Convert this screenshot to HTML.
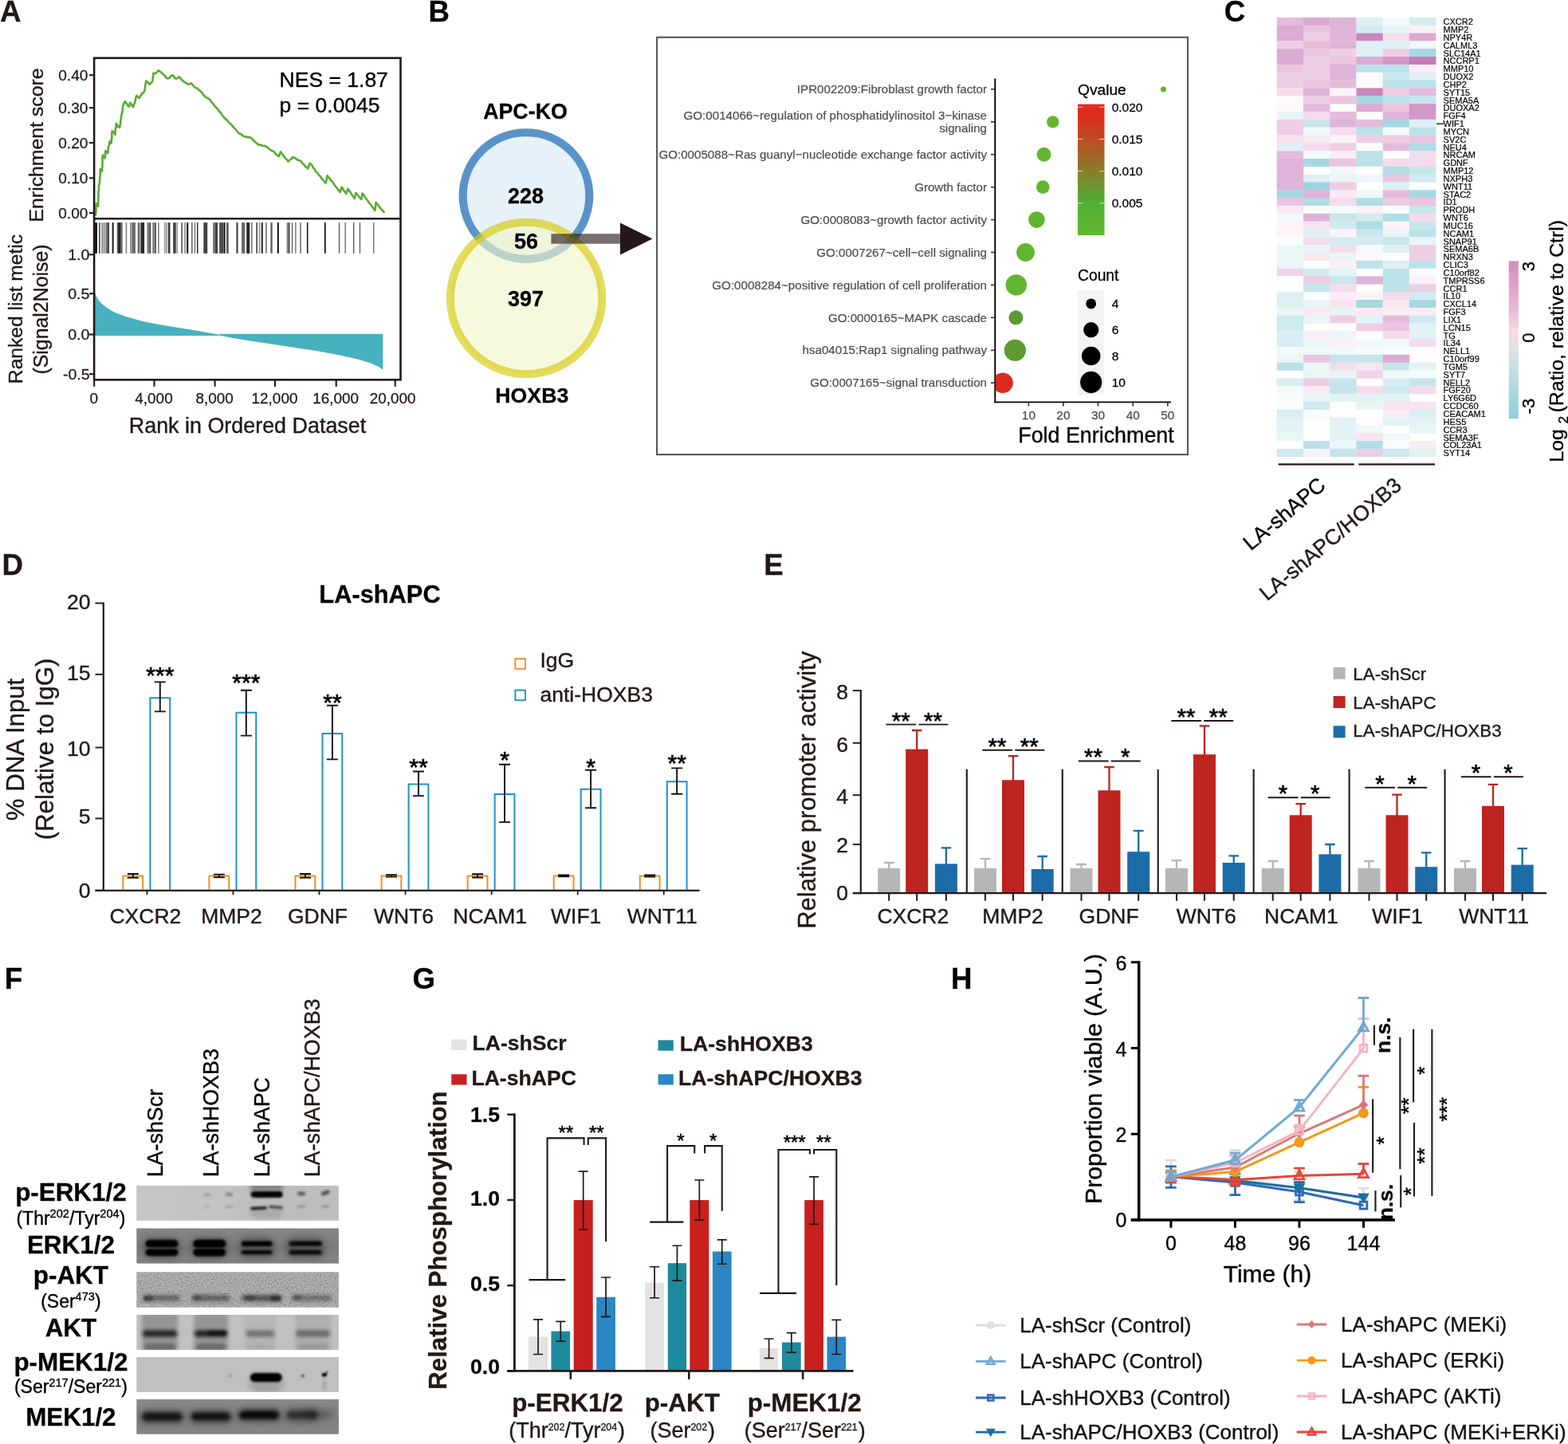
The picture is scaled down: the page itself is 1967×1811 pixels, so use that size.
<!DOCTYPE html>
<html lang="en">
<head>
<meta charset="utf-8">
<title>Figure</title>
<style>
html,body{margin:0;padding:0;background:#fff;}
body{width:1967px;height:1811px;overflow:hidden;}
svg{display:block;font-family:"Liberation Sans",sans-serif;fill:#231815;}
</style>
</head>
<body>
<svg xmlns="http://www.w3.org/2000/svg" width="1967" height="1811" viewBox="0 0 1967 1811">
<rect x="0" y="0" width="1967" height="1811" fill="#ffffff"/>
<g>
<text x="0" y="26.9" font-size="36.7" font-weight="bold" stroke="#231815" stroke-width="0.29">A</text>
<path d="M118.17 362.92 L119.49 368.21 L121.61 372.96 L124.25 377.19 L128.22 381.42 L132.18 384.6 L138.79 389.09 L145.4 392.53 L158.62 397.29 L171.83 400.99 L185.05 404.16 L211.49 408.92 L237.93 413.15 L264.36 417.64 L274.94 419.76 L274.94 420.55 L290.8 423.72 L317.23 427.95 L343.67 431.92 L370.11 435.88 L396.54 440.11 L422.98 444.87 L449.41 450.69 L465.28 455.44 L475.85 460.2 L480.34 463.9 L480.34 418.7 L274.94 418.7 L274.94 421.08 L118.17 421.08Z" fill="#47b1c0"/>
<g fill="#111"><rect x="119.07" y="279.1" width="2.85" height="38.7" opacity="1"/><rect x="123.95" y="279.1" width="1.73" height="38.7" opacity="0.75"/><rect x="127.4" y="279.1" width="1.32" height="38.7" opacity="0.6"/><rect x="129.23" y="279.1" width="1.53" height="38.7" opacity="0.45"/><rect x="131.27" y="279.1" width="1.02" height="38.7" opacity="0.55"/><rect x="132.79" y="279.1" width="2.03" height="38.7" opacity="0.65"/><rect x="135.03" y="279.1" width="1.83" height="38.7" opacity="0.85"/><rect x="140.62" y="279.1" width="2.03" height="38.7" opacity="0.95"/><rect x="146.72" y="279.1" width="1.32" height="38.7" opacity="0.65"/><rect x="148.05" y="279.1" width="3.56" height="38.7" opacity="0.9"/><rect x="151.6" y="279.1" width="2.03" height="38.7" opacity="0.65"/><rect x="157.7" y="279.1" width="1.53" height="38.7" opacity="0.55"/><rect x="163.3" y="279.1" width="2.03" height="38.7" opacity="0.55"/><rect x="165.84" y="279.1" width="1.53" height="38.7" opacity="0.75"/><rect x="167.36" y="279.1" width="2.54" height="38.7" opacity="0.65"/><rect x="172.75" y="279.1" width="2.24" height="38.7" opacity="0.65"/><rect x="175.5" y="279.1" width="1.53" height="38.7" opacity="0.55"/><rect x="177.02" y="279.1" width="4.07" height="38.7" opacity="0.9"/><rect x="184.65" y="279.1" width="2.03" height="38.7" opacity="0.65"/><rect x="187.19" y="279.1" width="2.03" height="38.7" opacity="0.8"/><rect x="191.26" y="279.1" width="2.54" height="38.7" opacity="0.55"/><rect x="194.11" y="279.1" width="1.73" height="38.7" opacity="0.75"/><rect x="198.17" y="279.1" width="1.42" height="38.7" opacity="0.6"/><rect x="205.8" y="279.1" width="1.22" height="38.7" opacity="0.4"/><rect x="207.53" y="279.1" width="1.53" height="38.7" opacity="0.45"/><rect x="209.56" y="279.1" width="1.02" height="38.7" opacity="0.45"/><rect x="211.09" y="279.1" width="2.34" height="38.7" opacity="0.85"/><rect x="217.19" y="279.1" width="3.56" height="38.7" opacity="0.8"/><rect x="221.56" y="279.1" width="1.22" height="38.7" opacity="0.55"/><rect x="227.35" y="279.1" width="1.53" height="38.7" opacity="0.75"/><rect x="231.42" y="279.1" width="1.32" height="38.7" opacity="0.6"/><rect x="234.17" y="279.1" width="2.03" height="38.7" opacity="1"/><rect x="240.06" y="279.1" width="1.53" height="38.7" opacity="0.65"/><rect x="243.93" y="279.1" width="1.22" height="38.7" opacity="0.65"/><rect x="246.98" y="279.1" width="1.53" height="38.7" opacity="0.85"/><rect x="255.32" y="279.1" width="4.88" height="38.7" opacity="0.8"/><rect x="267.01" y="279.1" width="2.54" height="38.7" opacity="0.55"/><rect x="269.55" y="279.1" width="3.56" height="38.7" opacity="0.8"/><rect x="275.14" y="279.1" width="5.59" height="38.7" opacity="0.75"/><rect x="280.94" y="279.1" width="1.63" height="38.7" opacity="1"/><rect x="283.99" y="279.1" width="2.85" height="38.7" opacity="0.65"/><rect x="296.49" y="279.1" width="2.03" height="38.7" opacity="0.85"/><rect x="303.1" y="279.1" width="2.03" height="38.7" opacity="0.65"/><rect x="305.34" y="279.1" width="1.63" height="38.7" opacity="0.8"/><rect x="309" y="279.1" width="4.27" height="38.7" opacity="0.7"/><rect x="310" y="279.1" width="3.05" height="38.7" opacity="0.7"/><rect x="315.08" y="279.1" width="1.53" height="38.7" opacity="0.6"/><rect x="321.39" y="279.1" width="1.63" height="38.7" opacity="0.8"/><rect x="325.05" y="279.1" width="1.22" height="38.7" opacity="0.55"/><rect x="327.79" y="279.1" width="2.03" height="38.7" opacity="0.9"/><rect x="333.18" y="279.1" width="1.53" height="38.7" opacity="0.65"/><rect x="339.28" y="279.1" width="2.44" height="38.7" opacity="0.65"/><rect x="347.82" y="279.1" width="2.03" height="38.7" opacity="1"/><rect x="359.62" y="279.1" width="1.22" height="38.7" opacity="0.55"/><rect x="361.04" y="279.1" width="1.32" height="38.7" opacity="0.65"/><rect x="362.36" y="279.1" width="1.32" height="38.7" opacity="0.8"/><rect x="365.92" y="279.1" width="1.22" height="38.7" opacity="0.7"/><rect x="370.19" y="279.1" width="1.42" height="38.7" opacity="0.6"/><rect x="376.29" y="279.1" width="1.42" height="38.7" opacity="0.7"/><rect x="384.94" y="279.1" width="1.53" height="38.7" opacity="1"/><rect x="406.8" y="279.1" width="2.03" height="38.7" opacity="0.9"/><rect x="424.9" y="279.1" width="1.32" height="38.7" opacity="0.7"/><rect x="432.52" y="279.1" width="1.32" height="38.7" opacity="0.65"/><rect x="442.99" y="279.1" width="1.42" height="38.7" opacity="0.7"/><rect x="450.82" y="279.1" width="1.32" height="38.7" opacity="0.7"/><rect x="468.11" y="279.1" width="1.32" height="38.7" opacity="0.65"/></g>
<path d="M119.86 270.32 L120.15 268.1 L120.41 265.99 L120.54 263.38 L120.41 259.32 L120.66 258.84 L120.71 255.38 L123.06 258.58 L122.91 257.11 L123.08 253.81 L123.36 251.63 L123.23 248.11 L123.74 246.35 L123.37 245.07 L123.44 242.79 L123.52 240.05 L124.05 236.34 L123.91 235.09 L124 232.1 L124.65 231.45 L124.96 227.58 L125.05 225.78 L125.2 223.35 L125.63 220.43 L125.82 219.24 L125.59 217.42 L125.68 213.99 L126.05 212.03 L128.19 214.81 L128 211.77 L128.39 209.86 L128.51 206.95 L128.36 205.43 L128.53 204.24 L128.6 200.88 L128.42 199.48 L128.47 197.82 L128.83 194.52 L130.42 196.99 L131.6 198.36 L131.99 195.01 L132.08 193.48 L131.97 190.4 L132.46 189.18 L135.23 191.96 L135.72 188.55 L135.81 185.88 L135.87 183.84 L136.85 182.51 L137.21 178.95 L138.01 177.01 L139.5 179.57 L139.82 177.43 L139.96 174.32 L140.18 173.64 L140.38 169.77 L140.17 167.69 L140.67 166.64 L140.57 164.2 L142.75 166.2 L144.41 168.9 L144.55 166.68 L144.72 163.87 L144.95 161.03 L145.71 160.06 L145.39 156.59 L145.91 155.02 L148.06 158.54 L150.18 159.93 L150.38 157.3 L151.09 155.3 L151.2 152.57 L151.85 149.27 L151.95 146.8 L152.31 145.41 L152.52 143.59 L153.44 140.79 L153.77 138.01 L153.98 134.3 L154.45 132.6 L155.72 129.16 L156.58 127.26 L158.34 128.94 L160.35 132.63 L161.92 133.67 L162.43 132.26 L162.99 128.75 L164.55 130.58 L165.71 132.41 L167.26 134.31 L167.76 131.67 L168.98 129.2 L169.47 128.06 L170.01 124.63 L170.68 121.3 L171.53 119.79 L173.35 122.01 L174.73 122.99 L176.51 120.02 L177.94 117.65 L180.71 115.52 L181.26 113.81 L181.72 111.25 L182.12 108.28 L182.41 105.78 L182.96 104.54 L183.27 101.64 L185.68 103.32 L187.55 105.91 L189.52 104.1 L191.39 101.64 L191.63 98.16 L191.92 96.28 L192.22 94.35 L192.24 92.03 L195.02 92.03 L197.01 90.54 L198.65 88.4 L201.19 89.88 L203.56 92.03 L205.36 94.15 L206.97 94.9 L208.48 97.65 L209.97 98.43 L212.37 98.06 L214.25 95.63 L216.37 94.16 L218.17 95.56 L219.57 98.43 L222.23 98.33 L224.91 96.3 L226.65 98.32 L227.92 100.01 L229.76 101.72 L231.32 102.7 L233.94 104.67 L236.66 105.91 L239.86 104.41 L241.8 106.61 L243.55 108.56 L245.2 110.18 L247.13 110.56 L249.56 112.9 L251.6 114.45 L253.32 116.06 L254.53 118.3 L256.24 120.03 L258.01 121.92 L260.46 123.12 L263.35 125.13 L264.65 126.88 L266.06 128.69 L267.76 130.86 L269.38 132.91 L270.82 134.73 L272.59 136.33 L273.81 137.94 L275.34 140.02 L277.12 141.71 L278.17 143.77 L279.73 145.82 L281.5 147.55 L283.11 149.29 L285.19 151.03 L286.57 152.96 L288.41 154.66 L290.04 156.09 L291.53 157.89 L293.49 160.02 L295.44 162.26 L296.78 163.87 L298.58 165.69 L300.15 167.66 L302.35 167.74 L303.97 169.88 L306.05 171.03 L308.69 171.77 L310.81 171.9 L313.13 172.2 L315.66 173.17 L317.46 175.79 L319.64 177.64 L321.12 178.93 L323.13 180.64 L325.27 181.94 L327.3 181.57 L329.53 183.02 L331.67 182.78 L333.58 183.72 L335.59 184.73 L337.32 186.53 L339.56 188.35 L341.28 189.18 L343.01 189.81 L344.96 191.64 L346.25 193.86 L347.91 194.45 L349.82 196.23 L350.77 194.02 L351.96 190.25 L353.32 192.19 L354.77 194.02 L355.85 195.95 L357.33 197.74 L358.72 199.15 L360.21 200.54 L361.57 202.63 L363.26 200.8 L365.18 199.47 L366.91 197.3 L368.89 197.46 L371.43 199.04 L373.34 200.64 L375.45 200.93 L377.75 202.28 L379.72 205.2 L381.36 206.68 L383 208.73 L384.77 209.97 L386.12 211.6 L386.91 209.14 L387.65 207.61 L388.69 204.77 L390.35 206.34 L391.82 207.86 L393.04 210.75 L394.71 211.99 L395.79 214.88 L397.5 216.08 L398.93 218.01 L400.43 219.96 L402.19 221.68 L403.48 224.1 L405.53 225.65 L407.04 228 L408.54 229.75 L409.21 227.02 L409.91 225.28 L409.87 222.69 L410.68 220.14 L411.97 222.29 L413.86 224.05 L414.83 226 L416.75 227.61 L418.02 229.41 L419.21 231.5 L420.6 233.55 L422.25 235.09 L423.52 236.96 L425.38 239.22 L426.69 241.07 L427.19 239.2 L428 236.75 L428.83 234.66 L430.16 236.87 L431.42 239.24 L432.95 240.76 L434.17 243.2 L434.96 240.82 L435.84 238.94 L436.3 236.8 L437.8 238.87 L439.18 240.69 L440.72 242.71 L441.78 244.92 L443.34 246.75 L444.84 248.97 L445.15 246.79 L445.93 244.42 L446.34 241.92 L448.2 243.66 L449.64 245.69 L451.46 248.07 L453.38 250.04 L453.73 247.81 L454.27 244.93 L454.45 242.56 L455.92 244.01 L456.91 245.81 L458.56 248.22 L459.56 249.49 L461.22 251.79 L462.24 253.46 L463.71 255.11 L465.03 256.61 L466.37 258.66 L467.58 260.28 L469.22 262.37 L470.47 263.92 L470.69 261.62 L471.01 259.14 L471.31 256.45 L471.53 253.88 L473 255.88 L474.3 257.26 L475.83 259.16 L477.62 261.47 L478.86 263.21 L480.92 264.84 L482.21 266.69" fill="none" stroke="#5aab2e" stroke-width="2.6" stroke-linejoin="round"/>
<rect x="118.1" y="72.8" width="384.4" height="403.5" fill="none" stroke="#231815" stroke-width="2.6"/>
<line x1="118.1" y1="274.3" x2="502.5" y2="274.3" stroke="#231815" stroke-width="2.6"/>
<line x1="111.9" y1="94.2" x2="118.1" y2="94.2" stroke="#231815" stroke-width="2.1"/>
<text x="110.3" y="100.8" font-size="18.6" text-anchor="end" textLength="37" lengthAdjust="spacingAndGlyphs" stroke="#231815" stroke-width="0.26">0.40</text>
<line x1="111.9" y1="135.2" x2="118.1" y2="135.2" stroke="#231815" stroke-width="2.1"/>
<text x="110.3" y="141.8" font-size="18.6" text-anchor="end" textLength="37" lengthAdjust="spacingAndGlyphs" stroke="#231815" stroke-width="0.26">0.30</text>
<line x1="111.9" y1="179.1" x2="118.1" y2="179.1" stroke="#231815" stroke-width="2.1"/>
<text x="110.3" y="185.7" font-size="18.6" text-anchor="end" textLength="37" lengthAdjust="spacingAndGlyphs" stroke="#231815" stroke-width="0.26">0.20</text>
<line x1="111.9" y1="223.3" x2="118.1" y2="223.3" stroke="#231815" stroke-width="2.1"/>
<text x="110.3" y="229.9" font-size="18.6" text-anchor="end" textLength="37" lengthAdjust="spacingAndGlyphs" stroke="#231815" stroke-width="0.26">0.10</text>
<line x1="111.9" y1="267.1" x2="118.1" y2="267.1" stroke="#231815" stroke-width="2.1"/>
<text x="110.3" y="273.7" font-size="18.6" text-anchor="end" textLength="37" lengthAdjust="spacingAndGlyphs" stroke="#231815" stroke-width="0.26">0.00</text>
<line x1="111.9" y1="319.3" x2="118.1" y2="319.3" stroke="#231815" stroke-width="2.1"/>
<text x="112.5" y="325.9" font-size="18.6" text-anchor="end" textLength="27.3" lengthAdjust="spacingAndGlyphs" stroke="#231815" stroke-width="0.26">1.0</text>
<line x1="111.9" y1="368.2" x2="118.1" y2="368.2" stroke="#231815" stroke-width="2.1"/>
<text x="112.5" y="374.8" font-size="18.6" text-anchor="end" textLength="27.3" lengthAdjust="spacingAndGlyphs" stroke="#231815" stroke-width="0.26">0.5</text>
<line x1="111.9" y1="419.5" x2="118.1" y2="419.5" stroke="#231815" stroke-width="2.1"/>
<text x="112.5" y="426.1" font-size="18.6" text-anchor="end" textLength="27.3" lengthAdjust="spacingAndGlyphs" stroke="#231815" stroke-width="0.26">0.0</text>
<line x1="111.9" y1="469.2" x2="118.1" y2="469.2" stroke="#231815" stroke-width="2.1"/>
<text x="112.5" y="475.8" font-size="18.6" text-anchor="end" textLength="33.6" lengthAdjust="spacingAndGlyphs" stroke="#231815" stroke-width="0.26">-0.5</text>
<line x1="118.2" y1="476.3" x2="118.2" y2="484.8" stroke="#231815" stroke-width="2.1"/>
<text x="117.7" y="505.6" font-size="18.9" text-anchor="middle" stroke="#231815" stroke-width="0.26">0</text>
<line x1="193.5" y1="476.3" x2="193.5" y2="484.8" stroke="#231815" stroke-width="2.1"/>
<text x="193" y="505.6" font-size="18.9" text-anchor="middle" stroke="#231815" stroke-width="0.26">4,000</text>
<line x1="269.6" y1="476.3" x2="269.6" y2="484.8" stroke="#231815" stroke-width="2.1"/>
<text x="269.1" y="505.6" font-size="18.9" text-anchor="middle" stroke="#231815" stroke-width="0.26">8,000</text>
<line x1="345" y1="476.3" x2="345" y2="484.8" stroke="#231815" stroke-width="2.1"/>
<text x="344.5" y="505.6" font-size="18.9" text-anchor="middle" stroke="#231815" stroke-width="0.26">12,000</text>
<line x1="421.7" y1="476.3" x2="421.7" y2="484.8" stroke="#231815" stroke-width="2.1"/>
<text x="421.2" y="505.6" font-size="18.9" text-anchor="middle" stroke="#231815" stroke-width="0.26">16,000</text>
<line x1="495.7" y1="476.3" x2="495.7" y2="484.8" stroke="#231815" stroke-width="2.1"/>
<text x="492.7" y="505.6" font-size="18.9" text-anchor="middle" stroke="#231815" stroke-width="0.26">20,000</text>
<text x="310.5" y="542.5" font-size="26.9" text-anchor="middle" stroke="#231815" stroke-width="0.36">Rank in Ordered Dataset</text>
<text x="54.4" y="182" font-size="24.8" text-anchor="middle" transform="rotate(-90 54.4 182)" stroke="#231815" stroke-width="0.36">Enrichment score</text>
<text x="27.8" y="387.5" font-size="24.6" text-anchor="middle" transform="rotate(-90 27.8 387.5)" stroke="#231815" stroke-width="0.36">Ranked list metic</text>
<text x="60.3" y="388" font-size="24.9" text-anchor="middle" transform="rotate(-90 60.3 388)" stroke="#231815" stroke-width="0.36">(Signal2Noise)</text>
<text x="350.6" y="108.9" font-size="26.5" fill="#000" stroke="#000" stroke-width="0.36">NES = 1.87</text>
<text x="350.6" y="140.9" font-size="26.5" fill="#000" stroke="#000" stroke-width="0.36">p = 0.0045</text>
</g>
<g>
<text x="537.4" y="26.9" font-size="36.7" font-weight="bold" fill="#000" stroke="#000" stroke-width="0.29">B</text>
<text x="659" y="149.3" font-size="26.8" text-anchor="middle" font-weight="bold" fill="#000" stroke="#000" stroke-width="0.29">APC-KO</text>
<circle cx="660" cy="245.55" r="79.3" fill="#e6f1f9" stroke="#5a93c8" stroke-width="10.2"/>
<circle cx="660.1" cy="374" r="95.2" fill="#f2f5cb" stroke="#d6c80c" stroke-width="10" fill-opacity="0.64" stroke-opacity="0.66"/>
<text x="659.5" y="255" font-size="27" text-anchor="middle" font-weight="bold" fill="#000" stroke="#000" stroke-width="0.29">228</text>
<text x="660" y="311.7" font-size="27" text-anchor="middle" font-weight="bold" fill="#000" stroke="#000" stroke-width="0.29">56</text>
<text x="659.5" y="383.6" font-size="27" text-anchor="middle" font-weight="bold" fill="#000" stroke="#000" stroke-width="0.29">397</text>
<text x="667.3" y="505.2" font-size="26.7" text-anchor="middle" font-weight="bold" fill="#000" stroke="#000" stroke-width="0.29">HOXB3</text>
<rect x="691.4" y="293.2" width="88" height="12.5" fill="#231815" opacity="0.62"/>
<path d="M778 279.5 L818.5 299.5 L778 319.5Z" fill="#231815"/>
<rect x="824.1" y="46.8" width="665.9" height="523.3" fill="none" stroke="#595757" stroke-width="2.1"/>
<line x1="1248.3" y1="98.5" x2="1248.3" y2="505.3" stroke="#000" stroke-width="1.9"/>
<line x1="1247.4" y1="504.4" x2="1469" y2="504.4" stroke="#000" stroke-width="1.9"/>
<clipPath id="bclip"><rect x="1248.8" y="90" width="240" height="413.8"/></clipPath>
<line x1="1243" y1="111.9" x2="1248" y2="111.9" stroke="#333" stroke-width="1.6"/>
<line x1="1243" y1="152.82" x2="1248" y2="152.82" stroke="#333" stroke-width="1.6"/>
<line x1="1243" y1="193.74" x2="1248" y2="193.74" stroke="#333" stroke-width="1.6"/>
<line x1="1243" y1="234.66" x2="1248" y2="234.66" stroke="#333" stroke-width="1.6"/>
<line x1="1243" y1="275.58" x2="1248" y2="275.58" stroke="#333" stroke-width="1.6"/>
<line x1="1243" y1="316.5" x2="1248" y2="316.5" stroke="#333" stroke-width="1.6"/>
<line x1="1243" y1="357.42" x2="1248" y2="357.42" stroke="#333" stroke-width="1.6"/>
<line x1="1243" y1="398.34" x2="1248" y2="398.34" stroke="#333" stroke-width="1.6"/>
<line x1="1243" y1="439.26" x2="1248" y2="439.26" stroke="#333" stroke-width="1.6"/>
<line x1="1243" y1="480.18" x2="1248" y2="480.18" stroke="#333" stroke-width="1.6"/>
<g font-size="15.15" fill="#4d4d4d" text-anchor="end" stroke="#4d4d4d" stroke-width="0.2"><text x="1238" y="117.1">IPR002209:Fibroblast growth factor</text><text x="1238" y="150.02">GO:0014066~regulation of phosphatidylinositol 3−kinase</text><text x="1238" y="166.42">signaling</text><text x="1238" y="198.94">GO:0005088~Ras guanyl−nucleotide exchange factor activity</text><text x="1238" y="239.86">Growth factor</text><text x="1238" y="280.78">GO:0008083~growth factor activity</text><text x="1238" y="321.7">GO:0007267~cell−cell signaling</text><text x="1238" y="362.62">GO:0008284~positive regulation of cell proliferation</text><text x="1238" y="403.54">GO:0000165~MAPK cascade</text><text x="1238" y="444.46">hsa04015:Rap1 signaling pathway</text><text x="1238" y="485.38">GO:0007165~signal transduction</text></g>
<g clip-path="url(#bclip)"><circle cx="1459.5" cy="111.9" r="3.5" fill="#62b62f"/><circle cx="1320.7" cy="152.82" r="7.6" fill="#62b62f"/><circle cx="1309.6" cy="193.74" r="9" fill="#62b62f"/><circle cx="1308.2" cy="234.66" r="8.3" fill="#62b62f"/><circle cx="1300.4" cy="275.58" r="10.3" fill="#62b32e"/><circle cx="1286.5" cy="316.5" r="11.4" fill="#62b62f"/><circle cx="1274.8" cy="357.42" r="13.2" fill="#62b62f"/><circle cx="1274.4" cy="398.34" r="9" fill="#5e9a30"/><circle cx="1273.3" cy="439.26" r="13.6" fill="#5e9a30"/><circle cx="1258" cy="480.18" r="12.8" fill="#dc2a1e"/></g>
<line x1="1290.4" y1="504.4" x2="1290.4" y2="509.4" stroke="#333" stroke-width="1.6"/>
<text x="1290.4" y="525.5" font-size="15.4" text-anchor="middle" fill="#4d4d4d" stroke="#4d4d4d" stroke-width="0.26">10</text>
<line x1="1333.9" y1="504.4" x2="1333.9" y2="509.4" stroke="#333" stroke-width="1.6"/>
<text x="1333.9" y="525.5" font-size="15.4" text-anchor="middle" fill="#4d4d4d" stroke="#4d4d4d" stroke-width="0.26">20</text>
<line x1="1377.5" y1="504.4" x2="1377.5" y2="509.4" stroke="#333" stroke-width="1.6"/>
<text x="1377.5" y="525.5" font-size="15.4" text-anchor="middle" fill="#4d4d4d" stroke="#4d4d4d" stroke-width="0.26">30</text>
<line x1="1421.2" y1="504.4" x2="1421.2" y2="509.4" stroke="#333" stroke-width="1.6"/>
<text x="1421.2" y="525.5" font-size="15.4" text-anchor="middle" fill="#4d4d4d" stroke="#4d4d4d" stroke-width="0.26">40</text>
<line x1="1464.8" y1="504.4" x2="1464.8" y2="509.4" stroke="#333" stroke-width="1.6"/>
<text x="1464.8" y="525.5" font-size="15.4" text-anchor="middle" fill="#4d4d4d" stroke="#4d4d4d" stroke-width="0.26">50</text>
<text x="1375" y="555" font-size="26.85" text-anchor="middle" fill="#000" stroke="#000" stroke-width="0.36">Fold Enrichment</text>
<linearGradient id="qg" x1="0" y1="0" x2="0" y2="1"><stop offset="0" stop-color="#e1281d"/><stop offset="0.12" stop-color="#d9311f"/><stop offset="0.5" stop-color="#8d7a2c"/><stop offset="0.75" stop-color="#4fae33"/><stop offset="1" stop-color="#62b82f"/></linearGradient>
<text x="1352" y="118.5" font-size="19.2" fill="#000" stroke="#000" stroke-width="0.26">Qvalue</text>
<rect x="1352" y="130.7" width="33.5" height="164.4" fill="url(#qg)"/>
<line x1="1352" y1="134.3" x2="1358.5" y2="134.3" stroke="#fff" stroke-width="1" opacity="0.75"/>
<line x1="1379" y1="134.3" x2="1385.5" y2="134.3" stroke="#fff" stroke-width="1" opacity="0.75"/>
<text x="1394.7" y="139.7" font-size="15.5" fill="#000" stroke="#000" stroke-width="0.26">0.020</text>
<line x1="1352" y1="174.5" x2="1358.5" y2="174.5" stroke="#fff" stroke-width="1" opacity="0.75"/>
<line x1="1379" y1="174.5" x2="1385.5" y2="174.5" stroke="#fff" stroke-width="1" opacity="0.75"/>
<text x="1394.7" y="179.9" font-size="15.5" fill="#000" stroke="#000" stroke-width="0.26">0.015</text>
<line x1="1352" y1="214.7" x2="1358.5" y2="214.7" stroke="#fff" stroke-width="1" opacity="0.75"/>
<line x1="1379" y1="214.7" x2="1385.5" y2="214.7" stroke="#fff" stroke-width="1" opacity="0.75"/>
<text x="1394.7" y="220.1" font-size="15.5" fill="#000" stroke="#000" stroke-width="0.26">0.010</text>
<line x1="1352" y1="254.9" x2="1358.5" y2="254.9" stroke="#fff" stroke-width="1" opacity="0.75"/>
<line x1="1379" y1="254.9" x2="1385.5" y2="254.9" stroke="#fff" stroke-width="1" opacity="0.75"/>
<text x="1394.7" y="260.3" font-size="15.5" fill="#000" stroke="#000" stroke-width="0.26">0.005</text>
<text x="1352" y="352" font-size="19.3" fill="#000" stroke="#000" stroke-width="0.26">Count</text>
<rect x="1352.2" y="363.9" width="32.9" height="131.4" fill="#f3f3f3"/>
<circle cx="1368.7" cy="380.9" r="6.4" fill="#000"/>
<text x="1394.7" y="386.3" font-size="15.5" fill="#000" stroke="#000" stroke-width="0.26">4</text>
<circle cx="1368.7" cy="413.7" r="9.6" fill="#000"/>
<text x="1394.7" y="419.1" font-size="15.5" fill="#000" stroke="#000" stroke-width="0.26">6</text>
<circle cx="1368.7" cy="446.5" r="11.8" fill="#000"/>
<text x="1394.7" y="451.9" font-size="15.5" fill="#000" stroke="#000" stroke-width="0.26">8</text>
<circle cx="1368.7" cy="479.4" r="13.6" fill="#000"/>
<text x="1394.7" y="484.8" font-size="15.5" fill="#000" stroke="#000" stroke-width="0.26">10</text>
</g>
<g>
<text x="1535.8" y="26.9" font-size="36.7" font-weight="bold" fill="#000" stroke="#000" stroke-width="0.29">C</text>
<g><rect x="1601.7" y="21.9" width="33.5" height="10.09" fill="#e5bcdc"/><rect x="1634.95" y="21.9" width="33.5" height="10.09" fill="#dbaad3"/><rect x="1668.2" y="21.9" width="33.5" height="10.09" fill="#e0b3d8"/><rect x="1701.45" y="21.9" width="33.5" height="10.09" fill="#def0f4"/><rect x="1734.7" y="21.9" width="33.5" height="10.09" fill="#f4fafb"/><rect x="1767.95" y="21.9" width="33.5" height="10.09" fill="#d3ebf0"/><rect x="1601.7" y="31.74" width="33.5" height="10.09" fill="#dbaad3"/><rect x="1634.95" y="31.74" width="33.5" height="10.09" fill="#eac5e0"/><rect x="1668.2" y="31.74" width="33.5" height="10.09" fill="#e0b3d8"/><rect x="1701.45" y="31.74" width="33.5" height="10.09" fill="#d3ebf0"/><rect x="1734.7" y="31.74" width="33.5" height="10.09" fill="#e9f5f8"/><rect x="1767.95" y="31.74" width="33.5" height="10.09" fill="#fbf0f7"/><rect x="1601.7" y="41.57" width="33.5" height="10.09" fill="#dbaad3"/><rect x="1634.95" y="41.57" width="33.5" height="10.09" fill="#eecee4"/><rect x="1668.2" y="41.57" width="33.5" height="10.09" fill="#e0b3d8"/><rect x="1701.45" y="41.57" width="33.5" height="10.09" fill="#c987bc"/><rect x="1734.7" y="41.57" width="33.5" height="10.09" fill="#f4dcec"/><rect x="1767.95" y="41.57" width="33.5" height="10.09" fill="#dbaad3"/><rect x="1601.7" y="51.41" width="33.5" height="10.09" fill="#eecee4"/><rect x="1634.95" y="51.41" width="33.5" height="10.09" fill="#e5bcdc"/><rect x="1668.2" y="51.41" width="33.5" height="10.09" fill="#e0b3d8"/><rect x="1701.45" y="51.41" width="33.5" height="10.09" fill="#def0f4"/><rect x="1734.7" y="51.41" width="33.5" height="10.09" fill="#def0f4"/><rect x="1767.95" y="51.41" width="33.5" height="10.09" fill="#eff8fa"/><rect x="1601.7" y="61.24" width="33.5" height="10.09" fill="#dbaad3"/><rect x="1634.95" y="61.24" width="33.5" height="10.09" fill="#eac5e0"/><rect x="1668.2" y="61.24" width="33.5" height="10.09" fill="#eecee4"/><rect x="1701.45" y="61.24" width="33.5" height="10.09" fill="#def0f4"/><rect x="1734.7" y="61.24" width="33.5" height="10.09" fill="#eecee4"/><rect x="1767.95" y="61.24" width="33.5" height="10.09" fill="#a6d8e1"/><rect x="1601.7" y="71.08" width="33.5" height="10.09" fill="#dbaad3"/><rect x="1634.95" y="71.08" width="33.5" height="10.09" fill="#eecee4"/><rect x="1668.2" y="71.08" width="33.5" height="10.09" fill="#eac5e0"/><rect x="1701.45" y="71.08" width="33.5" height="10.09" fill="#dbaad3"/><rect x="1734.7" y="71.08" width="33.5" height="10.09" fill="#d298c8"/><rect x="1767.95" y="71.08" width="33.5" height="10.09" fill="#c47cb4"/><rect x="1601.7" y="80.92" width="33.5" height="10.09" fill="#eac5e0"/><rect x="1634.95" y="80.92" width="33.5" height="10.09" fill="#eecee4"/><rect x="1668.2" y="80.92" width="33.5" height="10.09" fill="#e0b3d8"/><rect x="1701.45" y="80.92" width="33.5" height="10.09" fill="#bce2e9"/><rect x="1734.7" y="80.92" width="33.5" height="10.09" fill="#bce2e9"/><rect x="1767.95" y="80.92" width="33.5" height="10.09" fill="#faedf5"/><rect x="1601.7" y="90.75" width="33.5" height="10.09" fill="#eecee4"/><rect x="1634.95" y="90.75" width="33.5" height="10.09" fill="#eecee4"/><rect x="1668.2" y="90.75" width="33.5" height="10.09" fill="#e0b3d8"/><rect x="1701.45" y="90.75" width="33.5" height="10.09" fill="#fdf8fb"/><rect x="1734.7" y="90.75" width="33.5" height="10.09" fill="#c8e6ec"/><rect x="1767.95" y="90.75" width="33.5" height="10.09" fill="#def0f4"/><rect x="1601.7" y="100.59" width="33.5" height="10.09" fill="#eecee4"/><rect x="1634.95" y="100.59" width="33.5" height="10.09" fill="#eac5e0"/><rect x="1668.2" y="100.59" width="33.5" height="10.09" fill="#e5bcdc"/><rect x="1701.45" y="100.59" width="33.5" height="10.09" fill="#f8fcfd"/><rect x="1734.7" y="100.59" width="33.5" height="10.09" fill="#bce2e9"/><rect x="1767.95" y="100.59" width="33.5" height="10.09" fill="#bce2e9"/><rect x="1601.7" y="110.42" width="33.5" height="10.09" fill="#f4dcec"/><rect x="1634.95" y="110.42" width="33.5" height="10.09" fill="#e0b3d8"/><rect x="1668.2" y="110.42" width="33.5" height="10.09" fill="#fcf4f9"/><rect x="1701.45" y="110.42" width="33.5" height="10.09" fill="#c987bc"/><rect x="1734.7" y="110.42" width="33.5" height="10.09" fill="#eecee4"/><rect x="1767.95" y="110.42" width="33.5" height="10.09" fill="#e5bcdc"/><rect x="1601.7" y="120.26" width="33.5" height="10.09" fill="#fdf8fb"/><rect x="1634.95" y="120.26" width="33.5" height="10.09" fill="#eecee4"/><rect x="1668.2" y="120.26" width="33.5" height="10.09" fill="#eac5e0"/><rect x="1701.45" y="120.26" width="33.5" height="10.09" fill="#a6d8e1"/><rect x="1734.7" y="120.26" width="33.5" height="10.09" fill="#bce2e9"/><rect x="1767.95" y="120.26" width="33.5" height="10.09" fill="#c8e6ec"/><rect x="1601.7" y="130.1" width="33.5" height="10.09" fill="#fdf8fb"/><rect x="1634.95" y="130.1" width="33.5" height="10.09" fill="#e5bcdc"/><rect x="1701.45" y="130.1" width="33.5" height="10.09" fill="#dbaad3"/><rect x="1734.7" y="130.1" width="33.5" height="10.09" fill="#eac5e0"/><rect x="1767.95" y="130.1" width="33.5" height="10.09" fill="#d298c8"/><rect x="1601.7" y="139.93" width="33.5" height="10.09" fill="#e9f5f8"/><rect x="1634.95" y="139.93" width="33.5" height="10.09" fill="#f4dcec"/><rect x="1668.2" y="139.93" width="33.5" height="10.09" fill="#e5bcdc"/><rect x="1734.7" y="139.93" width="33.5" height="10.09" fill="#e0b3d8"/><rect x="1767.95" y="139.93" width="33.5" height="10.09" fill="#d298c8"/><rect x="1601.7" y="149.77" width="33.5" height="10.09" fill="#eecee4"/><rect x="1634.95" y="149.77" width="33.5" height="10.09" fill="#c8e6ec"/><rect x="1668.2" y="149.77" width="33.5" height="10.09" fill="#e0b3d8"/><rect x="1701.45" y="149.77" width="33.5" height="10.09" fill="#e5bcdc"/><rect x="1734.7" y="149.77" width="33.5" height="10.09" fill="#a6d8e1"/><rect x="1767.95" y="149.77" width="33.5" height="10.09" fill="#def0f4"/><rect x="1601.7" y="159.6" width="33.5" height="10.09" fill="#eecee4"/><rect x="1634.95" y="159.6" width="33.5" height="10.09" fill="#eff8fa"/><rect x="1668.2" y="159.6" width="33.5" height="10.09" fill="#f4dcec"/><rect x="1701.45" y="159.6" width="33.5" height="10.09" fill="#bce2e9"/><rect x="1734.7" y="159.6" width="33.5" height="10.09" fill="#f4fafb"/><rect x="1767.95" y="159.6" width="33.5" height="10.09" fill="#bce2e9"/><rect x="1601.7" y="169.44" width="33.5" height="10.09" fill="#f6e1ee"/><rect x="1634.95" y="169.44" width="33.5" height="10.09" fill="#f9e9f3"/><rect x="1668.2" y="169.44" width="33.5" height="10.09" fill="#fcf4f9"/><rect x="1701.45" y="169.44" width="33.5" height="10.09" fill="#eecee4"/><rect x="1734.7" y="169.44" width="33.5" height="10.09" fill="#eecee4"/><rect x="1767.95" y="169.44" width="33.5" height="10.09" fill="#eac5e0"/><rect x="1601.7" y="179.28" width="33.5" height="10.09" fill="#def0f4"/><rect x="1634.95" y="179.28" width="33.5" height="10.09" fill="#f4dcec"/><rect x="1668.2" y="179.28" width="33.5" height="10.09" fill="#eecee4"/><rect x="1701.45" y="179.28" width="33.5" height="10.09" fill="#fefdfe"/><rect x="1734.7" y="179.28" width="33.5" height="10.09" fill="#e5bcdc"/><rect x="1767.95" y="179.28" width="33.5" height="10.09" fill="#b1dde5"/><rect x="1601.7" y="189.11" width="33.5" height="10.09" fill="#e5bcdc"/><rect x="1634.95" y="189.11" width="33.5" height="10.09" fill="#f4fafb"/><rect x="1668.2" y="189.11" width="33.5" height="10.09" fill="#faedf5"/><rect x="1701.45" y="189.11" width="33.5" height="10.09" fill="#bce2e9"/><rect x="1767.95" y="189.11" width="33.5" height="10.09" fill="#f4dcec"/><rect x="1601.7" y="198.95" width="33.5" height="10.09" fill="#e0b3d8"/><rect x="1634.95" y="198.95" width="33.5" height="10.09" fill="#a6d8e1"/><rect x="1668.2" y="198.95" width="33.5" height="10.09" fill="#eac5e0"/><rect x="1701.45" y="198.95" width="33.5" height="10.09" fill="#bce2e9"/><rect x="1734.7" y="198.95" width="33.5" height="10.09" fill="#f4dcec"/><rect x="1767.95" y="198.95" width="33.5" height="10.09" fill="#f4dcec"/><rect x="1601.7" y="208.78" width="33.5" height="10.09" fill="#e0b3d8"/><rect x="1668.2" y="208.78" width="33.5" height="10.09" fill="#eff8fa"/><rect x="1701.45" y="208.78" width="33.5" height="10.09" fill="#fefdfe"/><rect x="1734.7" y="208.78" width="33.5" height="10.09" fill="#b1dde5"/><rect x="1767.95" y="208.78" width="33.5" height="10.09" fill="#c8e6ec"/><rect x="1601.7" y="218.62" width="33.5" height="10.09" fill="#e0b3d8"/><rect x="1634.95" y="218.62" width="33.5" height="10.09" fill="#def0f4"/><rect x="1668.2" y="218.62" width="33.5" height="10.09" fill="#e9f5f8"/><rect x="1701.45" y="218.62" width="33.5" height="10.09" fill="#edf7f9"/><rect x="1734.7" y="218.62" width="33.5" height="10.09" fill="#eac5e0"/><rect x="1767.95" y="218.62" width="33.5" height="10.09" fill="#d3ebf0"/><rect x="1601.7" y="228.46" width="33.5" height="10.09" fill="#e0b3d8"/><rect x="1634.95" y="228.46" width="33.5" height="10.09" fill="#9bd3de"/><rect x="1668.2" y="228.46" width="33.5" height="10.09" fill="#eecee4"/><rect x="1734.7" y="228.46" width="33.5" height="10.09" fill="#def0f4"/><rect x="1601.7" y="238.29" width="33.5" height="10.09" fill="#a6d8e1"/><rect x="1634.95" y="238.29" width="33.5" height="10.09" fill="#e0b3d8"/><rect x="1668.2" y="238.29" width="33.5" height="10.09" fill="#f9e9f3"/><rect x="1701.45" y="238.29" width="33.5" height="10.09" fill="#eff8fa"/><rect x="1734.7" y="238.29" width="33.5" height="10.09" fill="#e5bcdc"/><rect x="1767.95" y="238.29" width="33.5" height="10.09" fill="#a6d8e1"/><rect x="1601.7" y="248.13" width="33.5" height="10.09" fill="#eac5e0"/><rect x="1634.95" y="248.13" width="33.5" height="10.09" fill="#b1dde5"/><rect x="1668.2" y="248.13" width="33.5" height="10.09" fill="#f4dcec"/><rect x="1701.45" y="248.13" width="33.5" height="10.09" fill="#b1dde5"/><rect x="1734.7" y="248.13" width="33.5" height="10.09" fill="#eecee4"/><rect x="1767.95" y="248.13" width="33.5" height="10.09" fill="#eac5e0"/><rect x="1601.7" y="257.96" width="33.5" height="10.09" fill="#f9e9f3"/><rect x="1634.95" y="257.96" width="33.5" height="10.09" fill="#f8fcfd"/><rect x="1668.2" y="257.96" width="33.5" height="10.09" fill="#f4fafb"/><rect x="1701.45" y="257.96" width="33.5" height="10.09" fill="#fbf0f7"/><rect x="1734.7" y="257.96" width="33.5" height="10.09" fill="#fefdfe"/><rect x="1767.95" y="257.96" width="33.5" height="10.09" fill="#c8e6ec"/><rect x="1601.7" y="267.8" width="33.5" height="10.09" fill="#f4fafb"/><rect x="1634.95" y="267.8" width="33.5" height="10.09" fill="#e0b3d8"/><rect x="1668.2" y="267.8" width="33.5" height="10.09" fill="#c8e6ec"/><rect x="1701.45" y="267.8" width="33.5" height="10.09" fill="#d3ebf0"/><rect x="1734.7" y="267.8" width="33.5" height="10.09" fill="#b1dde5"/><rect x="1767.95" y="267.8" width="33.5" height="10.09" fill="#f4dcec"/><rect x="1601.7" y="277.64" width="33.5" height="10.09" fill="#fcf4f9"/><rect x="1634.95" y="277.64" width="33.5" height="10.09" fill="#f7e4f0"/><rect x="1668.2" y="277.64" width="33.5" height="10.09" fill="#d3ebf0"/><rect x="1701.45" y="277.64" width="33.5" height="10.09" fill="#b1dde5"/><rect x="1734.7" y="277.64" width="33.5" height="10.09" fill="#fcf4f9"/><rect x="1767.95" y="277.64" width="33.5" height="10.09" fill="#c8e6ec"/><rect x="1601.7" y="287.47" width="33.5" height="10.09" fill="#fcf4f9"/><rect x="1634.95" y="287.47" width="33.5" height="10.09" fill="#def0f4"/><rect x="1668.2" y="287.47" width="33.5" height="10.09" fill="#fcf4f9"/><rect x="1701.45" y="287.47" width="33.5" height="10.09" fill="#c8e6ec"/><rect x="1734.7" y="287.47" width="33.5" height="10.09" fill="#e9f5f8"/><rect x="1767.95" y="287.47" width="33.5" height="10.09" fill="#bce2e9"/><rect x="1601.7" y="297.31" width="33.5" height="10.09" fill="#fbfdfe"/><rect x="1634.95" y="297.31" width="33.5" height="10.09" fill="#f4dcec"/><rect x="1668.2" y="297.31" width="33.5" height="10.09" fill="#d3ebf0"/><rect x="1701.45" y="297.31" width="33.5" height="10.09" fill="#d3ebf0"/><rect x="1734.7" y="297.31" width="33.5" height="10.09" fill="#c8e6ec"/><rect x="1767.95" y="297.31" width="33.5" height="10.09" fill="#e9f5f8"/><rect x="1601.7" y="307.14" width="33.5" height="10.09" fill="#e9f5f8"/><rect x="1634.95" y="307.14" width="33.5" height="10.09" fill="#e9f5f8"/><rect x="1668.2" y="307.14" width="33.5" height="10.09" fill="#f4dcec"/><rect x="1701.45" y="307.14" width="33.5" height="10.09" fill="#f4fafb"/><rect x="1734.7" y="307.14" width="33.5" height="10.09" fill="#def0f4"/><rect x="1767.95" y="307.14" width="33.5" height="10.09" fill="#eecee4"/><rect x="1601.7" y="316.98" width="33.5" height="10.09" fill="#edf7f9"/><rect x="1634.95" y="316.98" width="33.5" height="10.09" fill="#f9e9f3"/><rect x="1668.2" y="316.98" width="33.5" height="10.09" fill="#e9f5f8"/><rect x="1701.45" y="316.98" width="33.5" height="10.09" fill="#fdf6fa"/><rect x="1767.95" y="316.98" width="33.5" height="10.09" fill="#eecee4"/><rect x="1601.7" y="326.82" width="33.5" height="10.09" fill="#e9f5f8"/><rect x="1668.2" y="326.82" width="33.5" height="10.09" fill="#fbf2f8"/><rect x="1701.45" y="326.82" width="33.5" height="10.09" fill="#bce2e9"/><rect x="1734.7" y="326.82" width="33.5" height="10.09" fill="#def0f4"/><rect x="1767.95" y="326.82" width="33.5" height="10.09" fill="#bce2e9"/><rect x="1601.7" y="336.65" width="33.5" height="10.09" fill="#f0d3e7"/><rect x="1634.95" y="336.65" width="33.5" height="10.09" fill="#d3ebf0"/><rect x="1668.2" y="336.65" width="33.5" height="10.09" fill="#e4f3f6"/><rect x="1734.7" y="336.65" width="33.5" height="10.09" fill="#bce2e9"/><rect x="1767.95" y="336.65" width="33.5" height="10.09" fill="#f8fcfd"/><rect x="1601.7" y="346.49" width="33.5" height="10.09" fill="#fdfefe"/><rect x="1634.95" y="346.49" width="33.5" height="10.09" fill="#eecee4"/><rect x="1668.2" y="346.49" width="33.5" height="10.09" fill="#c8e6ec"/><rect x="1701.45" y="346.49" width="33.5" height="10.09" fill="#e0b3d8"/><rect x="1734.7" y="346.49" width="33.5" height="10.09" fill="#bce2e9"/><rect x="1767.95" y="346.49" width="33.5" height="10.09" fill="#fbf0f7"/><rect x="1601.7" y="356.32" width="33.5" height="10.09" fill="#fdfefe"/><rect x="1634.95" y="356.32" width="33.5" height="10.09" fill="#c8e6ec"/><rect x="1668.2" y="356.32" width="33.5" height="10.09" fill="#f4dcec"/><rect x="1734.7" y="356.32" width="33.5" height="10.09" fill="#bce2e9"/><rect x="1767.95" y="356.32" width="33.5" height="10.09" fill="#eecee4"/><rect x="1601.7" y="366.16" width="33.5" height="10.09" fill="#def0f4"/><rect x="1668.2" y="366.16" width="33.5" height="10.09" fill="#faedf5"/><rect x="1701.45" y="366.16" width="33.5" height="10.09" fill="#fbf2f8"/><rect x="1734.7" y="366.16" width="33.5" height="10.09" fill="#f4dcec"/><rect x="1767.95" y="366.16" width="33.5" height="10.09" fill="#d3ebf0"/><rect x="1601.7" y="376" width="33.5" height="10.09" fill="#def0f4"/><rect x="1634.95" y="376" width="33.5" height="10.09" fill="#e9f5f8"/><rect x="1668.2" y="376" width="33.5" height="10.09" fill="#f7e4f0"/><rect x="1701.45" y="376" width="33.5" height="10.09" fill="#a6d8e1"/><rect x="1734.7" y="376" width="33.5" height="10.09" fill="#f9e9f3"/><rect x="1767.95" y="376" width="33.5" height="10.09" fill="#a6d8e1"/><rect x="1601.7" y="385.83" width="33.5" height="10.09" fill="#ebf6f8"/><rect x="1634.95" y="385.83" width="33.5" height="10.09" fill="#f9e9f3"/><rect x="1668.2" y="385.83" width="33.5" height="10.09" fill="#e8f5f7"/><rect x="1701.45" y="385.83" width="33.5" height="10.09" fill="#f9e9f3"/><rect x="1734.7" y="385.83" width="33.5" height="10.09" fill="#faedf5"/><rect x="1767.95" y="385.83" width="33.5" height="10.09" fill="#faedf5"/><rect x="1601.7" y="395.67" width="33.5" height="10.09" fill="#cee9ef"/><rect x="1634.95" y="395.67" width="33.5" height="10.09" fill="#e8f5f7"/><rect x="1668.2" y="395.67" width="33.5" height="10.09" fill="#eecee4"/><rect x="1701.45" y="395.67" width="33.5" height="10.09" fill="#e2f2f5"/><rect x="1734.7" y="395.67" width="33.5" height="10.09" fill="#e5bcdc"/><rect x="1767.95" y="395.67" width="33.5" height="10.09" fill="#cee9ef"/><rect x="1601.7" y="405.5" width="33.5" height="10.09" fill="#cee9ef"/><rect x="1668.2" y="405.5" width="33.5" height="10.09" fill="#fefdfe"/><rect x="1701.45" y="405.5" width="33.5" height="10.09" fill="#eecee4"/><rect x="1734.7" y="405.5" width="33.5" height="10.09" fill="#eac5e0"/><rect x="1767.95" y="405.5" width="33.5" height="10.09" fill="#e2f2f5"/><rect x="1601.7" y="415.34" width="33.5" height="10.09" fill="#d8eef2"/><rect x="1634.95" y="415.34" width="33.5" height="10.09" fill="#faedf5"/><rect x="1668.2" y="415.34" width="33.5" height="10.09" fill="#ebf6f8"/><rect x="1701.45" y="415.34" width="33.5" height="10.09" fill="#fbfdfe"/><rect x="1734.7" y="415.34" width="33.5" height="10.09" fill="#f4dcec"/><rect x="1767.95" y="415.34" width="33.5" height="10.09" fill="#e2f2f5"/><rect x="1601.7" y="425.18" width="33.5" height="10.09" fill="#d8eef2"/><rect x="1634.95" y="425.18" width="33.5" height="10.09" fill="#ebf6f8"/><rect x="1668.2" y="425.18" width="33.5" height="10.09" fill="#fbf0f7"/><rect x="1701.45" y="425.18" width="33.5" height="10.09" fill="#eff8fa"/><rect x="1734.7" y="425.18" width="33.5" height="10.09" fill="#eff8fa"/><rect x="1767.95" y="425.18" width="33.5" height="10.09" fill="#f4dcec"/><rect x="1601.7" y="435.01" width="33.5" height="10.09" fill="#f1f9fa"/><rect x="1634.95" y="435.01" width="33.5" height="10.09" fill="#f1f9fa"/><rect x="1668.2" y="435.01" width="33.5" height="10.09" fill="#eff8fa"/><rect x="1701.45" y="435.01" width="33.5" height="10.09" fill="#f5fbfc"/><rect x="1734.7" y="435.01" width="33.5" height="10.09" fill="#f9fcfd"/><rect x="1767.95" y="435.01" width="33.5" height="10.09" fill="#fefdfe"/><rect x="1601.7" y="444.85" width="33.5" height="10.09" fill="#ebf6f8"/><rect x="1634.95" y="444.85" width="33.5" height="10.09" fill="#eac5e0"/><rect x="1668.2" y="444.85" width="33.5" height="10.09" fill="#c4e5eb"/><rect x="1701.45" y="444.85" width="33.5" height="10.09" fill="#c4e5eb"/><rect x="1734.7" y="444.85" width="33.5" height="10.09" fill="#dbaad3"/><rect x="1601.7" y="454.68" width="33.5" height="10.09" fill="#bbe1e8"/><rect x="1634.95" y="454.68" width="33.5" height="10.09" fill="#ebf6f8"/><rect x="1668.2" y="454.68" width="33.5" height="10.09" fill="#f4dcec"/><rect x="1701.45" y="454.68" width="33.5" height="10.09" fill="#f7e4f0"/><rect x="1734.7" y="454.68" width="33.5" height="10.09" fill="#c4e5eb"/><rect x="1767.95" y="454.68" width="33.5" height="10.09" fill="#e2f2f5"/><rect x="1634.95" y="464.52" width="33.5" height="10.09" fill="#e8f5f7"/><rect x="1668.2" y="464.52" width="33.5" height="10.09" fill="#e8f5f7"/><rect x="1701.45" y="464.52" width="33.5" height="10.09" fill="#f0d3e7"/><rect x="1734.7" y="464.52" width="33.5" height="10.09" fill="#eff8fa"/><rect x="1767.95" y="464.52" width="33.5" height="10.09" fill="#f5fbfc"/><rect x="1601.7" y="474.36" width="33.5" height="10.09" fill="#d8eef2"/><rect x="1634.95" y="474.36" width="33.5" height="10.09" fill="#eecee4"/><rect x="1668.2" y="474.36" width="33.5" height="10.09" fill="#c4e5eb"/><rect x="1734.7" y="474.36" width="33.5" height="10.09" fill="#d8eef2"/><rect x="1767.95" y="474.36" width="33.5" height="10.09" fill="#c4e5eb"/><rect x="1601.7" y="484.19" width="33.5" height="10.09" fill="#f5fbfc"/><rect x="1634.95" y="484.19" width="33.5" height="10.09" fill="#f9e9f3"/><rect x="1668.2" y="484.19" width="33.5" height="10.09" fill="#c4e5eb"/><rect x="1701.45" y="484.19" width="33.5" height="10.09" fill="#f4dcec"/><rect x="1734.7" y="484.19" width="33.5" height="10.09" fill="#cee9ef"/><rect x="1767.95" y="484.19" width="33.5" height="10.09" fill="#f4dcec"/><rect x="1601.7" y="494.03" width="33.5" height="10.09" fill="#f9fcfd"/><rect x="1634.95" y="494.03" width="33.5" height="10.09" fill="#e8f5f7"/><rect x="1668.2" y="494.03" width="33.5" height="10.09" fill="#e2f2f5"/><rect x="1701.45" y="494.03" width="33.5" height="10.09" fill="#e2f2f5"/><rect x="1734.7" y="494.03" width="33.5" height="10.09" fill="#e2f2f5"/><rect x="1601.7" y="503.86" width="33.5" height="10.09" fill="#fbfdfe"/><rect x="1634.95" y="503.86" width="33.5" height="10.09" fill="#cee9ef"/><rect x="1668.2" y="503.86" width="33.5" height="10.09" fill="#fbfdfe"/><rect x="1701.45" y="503.86" width="33.5" height="10.09" fill="#e8f5f7"/><rect x="1734.7" y="503.86" width="33.5" height="10.09" fill="#f7e4f0"/><rect x="1767.95" y="503.86" width="33.5" height="10.09" fill="#f7e4f0"/><rect x="1601.7" y="513.7" width="33.5" height="10.09" fill="#d8eef2"/><rect x="1634.95" y="513.7" width="33.5" height="10.09" fill="#f5fbfc"/><rect x="1668.2" y="513.7" width="33.5" height="10.09" fill="#fbfdfe"/><rect x="1734.7" y="513.7" width="33.5" height="10.09" fill="#faedf5"/><rect x="1767.95" y="513.7" width="33.5" height="10.09" fill="#d8eef2"/><rect x="1601.7" y="523.54" width="33.5" height="10.09" fill="#e2f2f5"/><rect x="1634.95" y="523.54" width="33.5" height="10.09" fill="#fbfdfe"/><rect x="1668.2" y="523.54" width="33.5" height="10.09" fill="#e2f2f5"/><rect x="1701.45" y="523.54" width="33.5" height="10.09" fill="#fefdfe"/><rect x="1734.7" y="523.54" width="33.5" height="10.09" fill="#e2f2f5"/><rect x="1767.95" y="523.54" width="33.5" height="10.09" fill="#e2f2f5"/><rect x="1601.7" y="533.37" width="33.5" height="10.09" fill="#e2f2f5"/><rect x="1634.95" y="533.37" width="33.5" height="10.09" fill="#fbfdfe"/><rect x="1668.2" y="533.37" width="33.5" height="10.09" fill="#e2f2f5"/><rect x="1701.45" y="533.37" width="33.5" height="10.09" fill="#eff8fa"/><rect x="1767.95" y="533.37" width="33.5" height="10.09" fill="#e8f5f7"/><rect x="1601.7" y="543.21" width="33.5" height="10.09" fill="#ebf6f8"/><rect x="1634.95" y="543.21" width="33.5" height="10.09" fill="#fbfdfe"/><rect x="1668.2" y="543.21" width="33.5" height="10.09" fill="#e2f2f5"/><rect x="1701.45" y="543.21" width="33.5" height="10.09" fill="#f7e4f0"/><rect x="1734.7" y="543.21" width="33.5" height="10.09" fill="#f1f9fa"/><rect x="1634.95" y="553.04" width="33.5" height="10.09" fill="#bbe1e8"/><rect x="1668.2" y="553.04" width="33.5" height="10.09" fill="#ebf6f8"/><rect x="1701.45" y="553.04" width="33.5" height="10.09" fill="#b1dde5"/><rect x="1734.7" y="553.04" width="33.5" height="10.09" fill="#f9fcfd"/><rect x="1767.95" y="553.04" width="33.5" height="10.09" fill="#faedf5"/><rect x="1601.7" y="562.88" width="33.5" height="10.09" fill="#cee9ef"/><rect x="1634.95" y="562.88" width="33.5" height="10.09" fill="#fcf4f9"/><rect x="1668.2" y="562.88" width="33.5" height="10.09" fill="#c4e5eb"/><rect x="1701.45" y="562.88" width="33.5" height="10.09" fill="#eecee4"/><rect x="1734.7" y="562.88" width="33.5" height="10.09" fill="#cee9ef"/><rect x="1767.95" y="562.88" width="33.5" height="10.09" fill="#e2f2f5"/></g>
<g font-size="11" fill="#000" stroke="#000" stroke-width="0.2"><text x="1810.6" y="31.2">CXCR2</text><text x="1810.6" y="41.04">MMP2</text><text x="1810.6" y="50.87">NPY4R</text><text x="1810.6" y="60.71">CALML3</text><text x="1810.6" y="70.54">SLC14A1</text><text x="1810.6" y="80.38">NCCRP1</text><text x="1810.6" y="90.22">MMP10</text><text x="1810.6" y="100.05">DUOX2</text><text x="1810.6" y="109.89">CHP2</text><text x="1810.6" y="119.72">SYT15</text><text x="1810.6" y="129.56">SEMA5A</text><text x="1810.6" y="139.4">DUOXA2</text><text x="1810.6" y="149.23">FGF4</text><text x="1810.6" y="159.07">WIF1</text><text x="1810.6" y="168.9">MYCN</text><text x="1810.6" y="178.74">SV2C</text><text x="1810.6" y="188.58">NEU4</text><text x="1810.6" y="198.41">NRCAM</text><text x="1810.6" y="208.25">GDNF</text><text x="1810.6" y="218.08">MMP12</text><text x="1810.6" y="227.92">NXPH3</text><text x="1810.6" y="237.76">WNT11</text><text x="1810.6" y="247.59">STAC2</text><text x="1810.6" y="257.43">ID1</text><text x="1810.6" y="267.26">PRODH</text><text x="1810.6" y="277.1">WNT6</text><text x="1810.6" y="286.94">MUC16</text><text x="1810.6" y="296.77">NCAM1</text><text x="1810.6" y="306.61">SNAP91</text><text x="1810.6" y="316.44">SEMA6B</text><text x="1810.6" y="326.28">NRXN3</text><text x="1810.6" y="336.12">CLIC3</text><text x="1810.6" y="345.95">C10orf82</text><text x="1810.6" y="355.79">TMPRSS6</text><text x="1810.6" y="365.62">CCR1</text><text x="1810.6" y="375.46">IL10</text><text x="1810.6" y="385.3">CXCL14</text><text x="1810.6" y="395.13">FGF3</text><text x="1810.6" y="404.97">LIX1</text><text x="1810.6" y="414.8">LCN15</text><text x="1810.6" y="424.64">TG</text><text x="1810.6" y="434.48">IL34</text><text x="1810.6" y="444.31">NELL1</text><text x="1810.6" y="454.15">C10orf99</text><text x="1810.6" y="463.98">TGM5</text><text x="1810.6" y="473.82">SYT7</text><text x="1810.6" y="483.66">NELL2</text><text x="1810.6" y="493.49">FGF20</text><text x="1810.6" y="503.33">LY6G6D</text><text x="1810.6" y="513.16">CCDC60</text><text x="1810.6" y="523">CEACAM1</text><text x="1810.6" y="532.84">HES5</text><text x="1810.6" y="542.67">CCR3</text><text x="1810.6" y="552.51">SEMA3F</text><text x="1810.6" y="562.34">COL23A1</text><text x="1810.6" y="572.18">SYT14</text></g>
<line x1="1802" y1="155.3" x2="1811" y2="155.3" stroke="#444" stroke-width="1.8"/>
<line x1="1603.6" y1="582.3" x2="1698.8" y2="582.3" stroke="#231815" stroke-width="2.2"/>
<line x1="1704.3" y1="582.3" x2="1800" y2="582.3" stroke="#231815" stroke-width="2.2"/>
<text x="1569" y="691.5" font-size="26.75" fill="#000" transform="rotate(-40 1569 691.5)" stroke="#000" stroke-width="0.36">LA-shAPC</text>
<text x="1589.5" y="754.5" font-size="26.7" transform="rotate(-40 1589.5 754.5)" stroke="#231815" stroke-width="0.36">LA-shAPC/HOXB3</text>
<linearGradient id="cg" x1="0" y1="0" x2="0" y2="1"><stop offset="0" stop-color="#cf8dbf"/><stop offset="0.3" stop-color="#e9b7d7"/><stop offset="0.45" stop-color="#f5dce6"/><stop offset="0.55" stop-color="#e3e0e6"/><stop offset="0.75" stop-color="#b9dbe2"/><stop offset="1" stop-color="#8ccfd9"/></linearGradient>
<rect x="1892.8" y="327.4" width="12" height="197.6" fill="url(#cg)"/>
<text x="1925" y="334.2" font-size="22" text-anchor="middle" fill="#000" transform="rotate(-90 1925 334.2)" stroke="#000" stroke-width="0.36">3</text>
<text x="1925" y="423.5" font-size="22" text-anchor="middle" fill="#000" transform="rotate(-90 1925 423.5)" stroke="#000" stroke-width="0.36">0</text>
<text x="1925" y="509.5" font-size="22" text-anchor="middle" fill="#000" transform="rotate(-90 1925 509.5)" stroke="#000" stroke-width="0.36">-3</text>
<text font-size="24.8" fill="#000" stroke="#000" stroke-width="0.36" transform="translate(1961 579.6) rotate(-90)">Log <tspan font-size="17" dy="6">2 </tspan><tspan dy="-6">(Ratio, relative to Ctrl)</tspan></text>
</g>
<g>
<text x="2.6" y="720.8" font-size="36.7" font-weight="bold" stroke="#231815" stroke-width="0.29">D</text>
<text x="476.5" y="756" font-size="30.8" text-anchor="middle" font-weight="bold" fill="#000" stroke="#000" stroke-width="0.29">LA-shAPC</text>
<path d="M154.4 1116.8 V1098.41 H179.2 V1116.8" fill="none" stroke="#f0901e" stroke-width="2"/>
<path d="M166.8 1096.07 V1100.75 M159.8 1096.07 H173.8 M159.8 1100.75 H173.8" fill="none" stroke="#111" stroke-width="1.9"/>
<path d="M188.4 1116.8 V875.2 H213.2 V1116.8" fill="none" stroke="#1c91d1" stroke-width="2"/>
<path d="M200.8 855.36 V892.33 M193.8 855.36 H207.8 M193.8 892.33 H207.8" fill="none" stroke="#111" stroke-width="1.9"/>
<text x="200.8" y="857.16" font-size="30" text-anchor="middle" fill="#000" stroke="#000" stroke-width="0.7">***</text>
<line x1="184.4" y1="1116.8" x2="184.4" y2="1122.3" stroke="#231815" stroke-width="1.8"/>
<text x="182.4" y="1158.3" font-size="26.5" text-anchor="middle" stroke="#231815" stroke-width="0.36">CXCR2</text>
<path d="M262.46 1116.8 V1098.41 H287.26 V1116.8" fill="none" stroke="#f0901e" stroke-width="2"/>
<path d="M274.86 1096.61 V1100.21 M267.86 1096.61 H281.86 M267.86 1100.21 H281.86" fill="none" stroke="#111" stroke-width="1.9"/>
<path d="M296.46 1116.8 V893.77 H321.26 V1116.8" fill="none" stroke="#1c91d1" stroke-width="2"/>
<path d="M308.86 865.82 V922.62 M301.86 865.82 H315.86 M301.86 922.62 H315.86" fill="none" stroke="#111" stroke-width="1.9"/>
<text x="308.86" y="866.42" font-size="30" text-anchor="middle" fill="#000" stroke="#000" stroke-width="0.7">***</text>
<line x1="292.46" y1="1116.8" x2="292.46" y2="1122.3" stroke="#231815" stroke-width="1.8"/>
<text x="290.46" y="1158.3" font-size="26.5" text-anchor="middle" stroke="#231815" stroke-width="0.36">MMP2</text>
<path d="M370.52 1116.8 V1098.41 H395.32 V1116.8" fill="none" stroke="#f0901e" stroke-width="2"/>
<path d="M382.92 1096.07 V1100.75 M375.92 1096.07 H389.92 M375.92 1100.75 H389.92" fill="none" stroke="#111" stroke-width="1.9"/>
<path d="M404.52 1116.8 V919.91 H429.32 V1116.8" fill="none" stroke="#1c91d1" stroke-width="2"/>
<path d="M416.92 884.75 V952.37 M409.92 884.75 H423.92 M409.92 952.37 H423.92" fill="none" stroke="#111" stroke-width="1.9"/>
<text x="416.92" y="891.05" font-size="30" text-anchor="middle" fill="#000" stroke="#000" stroke-width="0.7">**</text>
<line x1="400.52" y1="1116.8" x2="400.52" y2="1122.3" stroke="#231815" stroke-width="1.8"/>
<text x="398.52" y="1158.3" font-size="26.5" text-anchor="middle" stroke="#231815" stroke-width="0.36">GDNF</text>
<path d="M478.58 1116.8 V1098.41 H503.38 V1116.8" fill="none" stroke="#f0901e" stroke-width="2"/>
<path d="M490.98 1097.15 V1099.67 M483.98 1097.15 H497.98 M483.98 1099.67 H497.98" fill="none" stroke="#111" stroke-width="1.9"/>
<path d="M512.58 1116.8 V983.38 H537.38 V1116.8" fill="none" stroke="#1c91d1" stroke-width="2"/>
<path d="M524.98 967.51 V998.16 M517.98 967.51 H531.98 M517.98 998.16 H531.98" fill="none" stroke="#111" stroke-width="1.9"/>
<text x="524.98" y="971.81" font-size="30" text-anchor="middle" fill="#000" stroke="#000" stroke-width="0.7">**</text>
<line x1="508.58" y1="1116.8" x2="508.58" y2="1122.3" stroke="#231815" stroke-width="1.8"/>
<text x="506.58" y="1158.3" font-size="26.5" text-anchor="middle" stroke="#231815" stroke-width="0.36">WNT6</text>
<path d="M586.64 1116.8 V1098.41 H611.44 V1116.8" fill="none" stroke="#f0901e" stroke-width="2"/>
<path d="M599.04 1096.25 V1100.57 M592.04 1096.25 H606.04 M592.04 1100.57 H606.04" fill="none" stroke="#111" stroke-width="1.9"/>
<path d="M620.64 1116.8 V996 H645.44 V1116.8" fill="none" stroke="#1c91d1" stroke-width="2"/>
<path d="M633.04 958.68 V1031.16 M626.04 958.68 H640.04 M626.04 1031.16 H640.04" fill="none" stroke="#111" stroke-width="1.9"/>
<text x="633.04" y="962.98" font-size="30" text-anchor="middle" fill="#000" stroke="#000" stroke-width="0.7">*</text>
<line x1="616.64" y1="1116.8" x2="616.64" y2="1122.3" stroke="#231815" stroke-width="1.8"/>
<text x="614.64" y="1158.3" font-size="26.5" text-anchor="middle" stroke="#231815" stroke-width="0.36">NCAM1</text>
<path d="M694.7 1116.8 V1098.41 H719.5 V1116.8" fill="none" stroke="#f0901e" stroke-width="2"/>
<path d="M707.1 1097.51 V1099.31 M700.1 1097.51 H714.1 M700.1 1099.31 H714.1" fill="none" stroke="#111" stroke-width="1.9"/>
<path d="M728.7 1116.8 V989.87 H753.5 V1116.8" fill="none" stroke="#1c91d1" stroke-width="2"/>
<path d="M741.1 965.71 V1013.31 M734.1 965.71 H748.1 M734.1 1013.31 H748.1" fill="none" stroke="#111" stroke-width="1.9"/>
<text x="741.1" y="971.91" font-size="30" text-anchor="middle" fill="#000" stroke="#000" stroke-width="0.7">*</text>
<line x1="724.7" y1="1116.8" x2="724.7" y2="1122.3" stroke="#231815" stroke-width="1.8"/>
<text x="722.7" y="1158.3" font-size="26.5" text-anchor="middle" stroke="#231815" stroke-width="0.36">WIF1</text>
<path d="M802.76 1116.8 V1098.41 H827.56 V1116.8" fill="none" stroke="#f0901e" stroke-width="2"/>
<path d="M815.16 1097.33 V1099.49 M808.16 1097.33 H822.16 M808.16 1099.49 H822.16" fill="none" stroke="#111" stroke-width="1.9"/>
<path d="M836.76 1116.8 V980.13 H861.56 V1116.8" fill="none" stroke="#1c91d1" stroke-width="2"/>
<path d="M849.16 963.36 V995.82 M842.16 963.36 H856.16 M842.16 995.82 H856.16" fill="none" stroke="#111" stroke-width="1.9"/>
<text x="849.16" y="966.96" font-size="30" text-anchor="middle" fill="#000" stroke="#000" stroke-width="0.7">**</text>
<line x1="832.76" y1="1116.8" x2="832.76" y2="1122.3" stroke="#231815" stroke-width="1.8"/>
<text x="830.76" y="1158.3" font-size="26.5" text-anchor="middle" stroke="#231815" stroke-width="0.36">WNT11</text>
<line x1="129.8" y1="755.5" x2="129.8" y2="1117.9" stroke="#231815" stroke-width="2.2"/>
<line x1="119.5" y1="1116.8" x2="877.6" y2="1116.8" stroke="#231815" stroke-width="2.2"/>
<line x1="119.5" y1="756.5" x2="129.8" y2="756.5" stroke="#231815" stroke-width="1.9"/>
<text x="113.5" y="763.9" font-size="26.5" text-anchor="end" stroke="#231815" stroke-width="0.36">20</text>
<line x1="119.5" y1="845.8" x2="129.8" y2="845.8" stroke="#231815" stroke-width="1.9"/>
<text x="113.5" y="852.9" font-size="26.5" text-anchor="end" stroke="#231815" stroke-width="0.36">15</text>
<line x1="119.5" y1="937.5" x2="129.8" y2="937.5" stroke="#231815" stroke-width="1.9"/>
<text x="113.5" y="947.6" font-size="26.5" text-anchor="end" stroke="#231815" stroke-width="0.36">10</text>
<line x1="119.5" y1="1026.5" x2="129.8" y2="1026.5" stroke="#231815" stroke-width="1.9"/>
<text x="113.5" y="1033.4" font-size="26.5" text-anchor="end" stroke="#231815" stroke-width="0.36">5</text>
<line x1="119.5" y1="1116.8" x2="129.8" y2="1116.8" stroke="#231815" stroke-width="1.9"/>
<text x="113.5" y="1126.4" font-size="26.5" text-anchor="end" stroke="#231815" stroke-width="0.36">0</text>
<text x="29.8" y="940" font-size="31.2" text-anchor="middle" transform="rotate(-90 29.8 940)" stroke="#231815" stroke-width="0.36">% DNA Input</text>
<text x="67" y="939.5" font-size="31.3" text-anchor="middle" transform="rotate(-90 67 939.5)" stroke="#231815" stroke-width="0.36">(Relative to IgG)</text>
<rect x="646.4" y="826.2" width="12.6" height="12.6" fill="none" stroke="#f0901e" stroke-width="1.9"/>
<text x="677.5" y="836.8" font-size="26.5" stroke="#231815" stroke-width="0.36">IgG</text>
<rect x="646.4" y="865.6" width="12.6" height="12.6" fill="none" stroke="#1c91d1" stroke-width="1.9"/>
<text x="677.5" y="879.5" font-size="26.5" stroke="#231815" stroke-width="0.36">anti-HOXB3</text>
</g>
<g>
<text x="958.3" y="720.8" font-size="36.7" font-weight="bold" stroke="#231815" stroke-width="0.29">E</text>
<rect x="1101.2" y="1089" width="28" height="31.2" fill="#b5b6b6"/>
<path d="M1115.2 1090 V1082 M1108.9 1082 H1121.5" fill="none" stroke="#b5b6b6" stroke-width="2.3"/>
<line x1="1115.2" y1="1120.2" x2="1115.2" y2="1129.7" stroke="#231815" stroke-width="2"/>
<rect x="1136.2" y="939.6" width="28" height="180.6" fill="#be2420"/>
<path d="M1150.2 940.6 V916 M1143.9 916 H1156.5" fill="none" stroke="#be2420" stroke-width="2.3"/>
<line x1="1150.2" y1="1120.2" x2="1150.2" y2="1129.7" stroke="#231815" stroke-width="2"/>
<rect x="1172.9" y="1083.4" width="28" height="36.8" fill="#1c6ca9"/>
<path d="M1186.9 1084.4 V1063.3 M1180.6 1063.3 H1193.2" fill="none" stroke="#1c6ca9" stroke-width="2.3"/>
<line x1="1186.9" y1="1120.2" x2="1186.9" y2="1129.7" stroke="#231815" stroke-width="2"/>
<line x1="1111.5" y1="908.6" x2="1149.2" y2="908.6" stroke="#231815" stroke-width="1.9"/>
<line x1="1152.5" y1="908.6" x2="1189.4" y2="908.6" stroke="#231815" stroke-width="1.9"/>
<text x="1130.2" y="913.5" font-size="29.5" text-anchor="middle" fill="#000" stroke="#000" stroke-width="0.6">**</text>
<text x="1170.5" y="913.5" font-size="29.5" text-anchor="middle" fill="#000" stroke="#000" stroke-width="0.6">**</text>
<text x="1145.3" y="1158.3" font-size="26.5" text-anchor="middle" stroke="#231815" stroke-width="0.36">CXCR2</text>
<line x1="1212.8" y1="964.8" x2="1212.8" y2="1120.2" stroke="#231815" stroke-width="2.1"/>
<rect x="1222" y="1089" width="28" height="31.2" fill="#b5b6b6"/>
<path d="M1236 1090 V1077.1 M1229.7 1077.1 H1242.3" fill="none" stroke="#b5b6b6" stroke-width="2.3"/>
<line x1="1236" y1="1120.2" x2="1236" y2="1129.7" stroke="#231815" stroke-width="2"/>
<rect x="1257" y="978.3" width="28" height="141.9" fill="#be2420"/>
<path d="M1271 979.3 V948.2 M1264.7 948.2 H1277.3" fill="none" stroke="#be2420" stroke-width="2.3"/>
<line x1="1271" y1="1120.2" x2="1271" y2="1129.7" stroke="#231815" stroke-width="2"/>
<rect x="1293.7" y="1090" width="28" height="30.2" fill="#1c6ca9"/>
<path d="M1307.7 1091 V1074 M1301.4 1074 H1314" fill="none" stroke="#1c6ca9" stroke-width="2.3"/>
<line x1="1307.7" y1="1120.2" x2="1307.7" y2="1129.7" stroke="#231815" stroke-width="2"/>
<line x1="1232.3" y1="940.7" x2="1270" y2="940.7" stroke="#231815" stroke-width="1.9"/>
<line x1="1273.3" y1="940.7" x2="1310.2" y2="940.7" stroke="#231815" stroke-width="1.9"/>
<text x="1251" y="945.6" font-size="29.5" text-anchor="middle" fill="#000" stroke="#000" stroke-width="0.6">**</text>
<text x="1291.3" y="945.6" font-size="29.5" text-anchor="middle" fill="#000" stroke="#000" stroke-width="0.6">**</text>
<text x="1270.6" y="1158.3" font-size="26.5" text-anchor="middle" stroke="#231815" stroke-width="0.36">MMP2</text>
<line x1="1332.75" y1="964.8" x2="1332.75" y2="1120.2" stroke="#231815" stroke-width="2.1"/>
<rect x="1342.5" y="1089" width="28" height="31.2" fill="#b5b6b6"/>
<path d="M1356.5 1090 V1084 M1350.2 1084 H1362.8" fill="none" stroke="#b5b6b6" stroke-width="2.3"/>
<line x1="1356.5" y1="1120.2" x2="1356.5" y2="1129.7" stroke="#231815" stroke-width="2"/>
<rect x="1377.5" y="991.3" width="28" height="128.9" fill="#be2420"/>
<path d="M1391.5 992.3 V962 M1385.2 962 H1397.8" fill="none" stroke="#be2420" stroke-width="2.3"/>
<line x1="1391.5" y1="1120.2" x2="1391.5" y2="1129.7" stroke="#231815" stroke-width="2"/>
<rect x="1414.2" y="1068.2" width="28" height="52" fill="#1c6ca9"/>
<path d="M1428.2 1069.2 V1041.8 M1421.9 1041.8 H1434.5" fill="none" stroke="#1c6ca9" stroke-width="2.3"/>
<line x1="1428.2" y1="1120.2" x2="1428.2" y2="1129.7" stroke="#231815" stroke-width="2"/>
<line x1="1352.8" y1="954.5" x2="1390.5" y2="954.5" stroke="#231815" stroke-width="1.9"/>
<line x1="1393.8" y1="954.5" x2="1430.7" y2="954.5" stroke="#231815" stroke-width="1.9"/>
<text x="1371.5" y="959.4" font-size="29.5" text-anchor="middle" fill="#000" stroke="#000" stroke-width="0.6">**</text>
<text x="1411.8" y="959.4" font-size="29.5" text-anchor="middle" fill="#000" stroke="#000" stroke-width="0.6">*</text>
<text x="1391.1" y="1158.3" font-size="26.5" text-anchor="middle" stroke="#231815" stroke-width="0.36">GDNF</text>
<line x1="1452.7" y1="964.8" x2="1452.7" y2="1120.2" stroke="#231815" stroke-width="2.1"/>
<rect x="1462" y="1089" width="28" height="31.2" fill="#b5b6b6"/>
<path d="M1476 1090 V1079.1 M1469.7 1079.1 H1482.3" fill="none" stroke="#b5b6b6" stroke-width="2.3"/>
<line x1="1476" y1="1120.2" x2="1476" y2="1129.7" stroke="#231815" stroke-width="2"/>
<rect x="1497" y="946.2" width="28" height="174" fill="#be2420"/>
<path d="M1511 947.2 V910.3 M1504.7 910.3 H1517.3" fill="none" stroke="#be2420" stroke-width="2.3"/>
<line x1="1511" y1="1120.2" x2="1511" y2="1129.7" stroke="#231815" stroke-width="2"/>
<rect x="1533.7" y="1082" width="28" height="38.2" fill="#1c6ca9"/>
<path d="M1547.7 1083 V1073.4 M1541.4 1073.4 H1554" fill="none" stroke="#1c6ca9" stroke-width="2.3"/>
<line x1="1547.7" y1="1120.2" x2="1547.7" y2="1129.7" stroke="#231815" stroke-width="2"/>
<line x1="1469.3" y1="904" x2="1507" y2="904" stroke="#231815" stroke-width="1.9"/>
<line x1="1510.3" y1="904" x2="1547.2" y2="904" stroke="#231815" stroke-width="1.9"/>
<text x="1488" y="908.9" font-size="29.5" text-anchor="middle" fill="#000" stroke="#000" stroke-width="0.6">**</text>
<text x="1528.3" y="908.9" font-size="29.5" text-anchor="middle" fill="#000" stroke="#000" stroke-width="0.6">**</text>
<text x="1513.2" y="1158.3" font-size="26.5" text-anchor="middle" stroke="#231815" stroke-width="0.36">WNT6</text>
<line x1="1572.65" y1="964.8" x2="1572.65" y2="1120.2" stroke="#231815" stroke-width="2.1"/>
<rect x="1582.7" y="1089" width="28" height="31.2" fill="#b5b6b6"/>
<path d="M1596.7 1090 V1080 M1590.4 1080 H1603" fill="none" stroke="#b5b6b6" stroke-width="2.3"/>
<line x1="1596.7" y1="1120.2" x2="1596.7" y2="1129.7" stroke="#231815" stroke-width="2"/>
<rect x="1617.7" y="1022.3" width="28" height="97.9" fill="#be2420"/>
<path d="M1631.7 1023.3 V1008.2 M1625.4 1008.2 H1638" fill="none" stroke="#be2420" stroke-width="2.3"/>
<line x1="1631.7" y1="1120.2" x2="1631.7" y2="1129.7" stroke="#231815" stroke-width="2"/>
<rect x="1654.4" y="1071.4" width="28" height="48.8" fill="#1c6ca9"/>
<path d="M1668.4 1072.4 V1059 M1662.1 1059 H1674.7" fill="none" stroke="#1c6ca9" stroke-width="2.3"/>
<line x1="1668.4" y1="1120.2" x2="1668.4" y2="1129.7" stroke="#231815" stroke-width="2"/>
<line x1="1590.8" y1="1000.2" x2="1628.5" y2="1000.2" stroke="#231815" stroke-width="1.9"/>
<line x1="1631.8" y1="1000.2" x2="1668.7" y2="1000.2" stroke="#231815" stroke-width="1.9"/>
<text x="1609.5" y="1005.1" font-size="29.5" text-anchor="middle" fill="#000" stroke="#000" stroke-width="0.6">*</text>
<text x="1649.8" y="1005.1" font-size="29.5" text-anchor="middle" fill="#000" stroke="#000" stroke-width="0.6">*</text>
<text x="1632.4" y="1158.3" font-size="26.5" text-anchor="middle" stroke="#231815" stroke-width="0.36">NCAM1</text>
<line x1="1692.6" y1="964.8" x2="1692.6" y2="1120.2" stroke="#231815" stroke-width="2.1"/>
<rect x="1703.5" y="1089" width="28" height="31.2" fill="#b5b6b6"/>
<path d="M1717.5 1090 V1080 M1711.2 1080 H1723.8" fill="none" stroke="#b5b6b6" stroke-width="2.3"/>
<line x1="1717.5" y1="1120.2" x2="1717.5" y2="1129.7" stroke="#231815" stroke-width="2"/>
<rect x="1738.5" y="1022.3" width="28" height="97.9" fill="#be2420"/>
<path d="M1752.5 1023.3 V996.7 M1746.2 996.7 H1758.8" fill="none" stroke="#be2420" stroke-width="2.3"/>
<line x1="1752.5" y1="1120.2" x2="1752.5" y2="1129.7" stroke="#231815" stroke-width="2"/>
<rect x="1775.2" y="1087.2" width="28" height="33" fill="#1c6ca9"/>
<path d="M1789.2 1088.2 V1069.4 M1782.9 1069.4 H1795.5" fill="none" stroke="#1c6ca9" stroke-width="2.3"/>
<line x1="1789.2" y1="1120.2" x2="1789.2" y2="1129.7" stroke="#231815" stroke-width="2"/>
<line x1="1712.3" y1="987.8" x2="1750" y2="987.8" stroke="#231815" stroke-width="1.9"/>
<line x1="1753.3" y1="987.8" x2="1790.2" y2="987.8" stroke="#231815" stroke-width="1.9"/>
<text x="1731" y="992.7" font-size="29.5" text-anchor="middle" fill="#000" stroke="#000" stroke-width="0.6">*</text>
<text x="1771.3" y="992.7" font-size="29.5" text-anchor="middle" fill="#000" stroke="#000" stroke-width="0.6">*</text>
<text x="1753" y="1158.3" font-size="26.5" text-anchor="middle" stroke="#231815" stroke-width="0.36">WIF1</text>
<line x1="1812.55" y1="964.8" x2="1812.55" y2="1120.2" stroke="#231815" stroke-width="2.1"/>
<rect x="1824" y="1089" width="28" height="31.2" fill="#b5b6b6"/>
<path d="M1838 1090 V1080 M1831.7 1080 H1844.3" fill="none" stroke="#b5b6b6" stroke-width="2.3"/>
<line x1="1838" y1="1120.2" x2="1838" y2="1129.7" stroke="#231815" stroke-width="2"/>
<rect x="1859" y="1010.8" width="28" height="109.4" fill="#be2420"/>
<path d="M1873 1011.8 V983.8 M1866.7 983.8 H1879.3" fill="none" stroke="#be2420" stroke-width="2.3"/>
<line x1="1873" y1="1120.2" x2="1873" y2="1129.7" stroke="#231815" stroke-width="2"/>
<rect x="1895.7" y="1084.6" width="28" height="35.6" fill="#1c6ca9"/>
<path d="M1909.7 1085.6 V1064.2 M1903.4 1064.2 H1916" fill="none" stroke="#1c6ca9" stroke-width="2.3"/>
<line x1="1909.7" y1="1120.2" x2="1909.7" y2="1129.7" stroke="#231815" stroke-width="2"/>
<line x1="1832.9" y1="974.3" x2="1870.6" y2="974.3" stroke="#231815" stroke-width="1.9"/>
<line x1="1873.9" y1="974.3" x2="1910.8" y2="974.3" stroke="#231815" stroke-width="1.9"/>
<text x="1851.6" y="979.2" font-size="29.5" text-anchor="middle" fill="#000" stroke="#000" stroke-width="0.6">*</text>
<text x="1891.9" y="979.2" font-size="29.5" text-anchor="middle" fill="#000" stroke="#000" stroke-width="0.6">*</text>
<text x="1874.1" y="1158.3" font-size="26.5" text-anchor="middle" stroke="#231815" stroke-width="0.36">WNT11</text>
<line x1="1079.8" y1="865.1" x2="1079.8" y2="1121.3" stroke="#231815" stroke-width="2.2"/>
<line x1="1069.8" y1="1120.2" x2="1940" y2="1120.2" stroke="#231815" stroke-width="2.2"/>
<line x1="1069.8" y1="866.1" x2="1079.8" y2="866.1" stroke="#231815" stroke-width="1.9"/>
<text x="1064" y="877.4" font-size="26.5" text-anchor="end" stroke="#231815" stroke-width="0.36">8</text>
<line x1="1069.8" y1="931.8" x2="1079.8" y2="931.8" stroke="#231815" stroke-width="1.9"/>
<text x="1064" y="942.5" font-size="26.5" text-anchor="end" stroke="#231815" stroke-width="0.36">6</text>
<line x1="1069.8" y1="997.2" x2="1079.8" y2="997.2" stroke="#231815" stroke-width="1.9"/>
<text x="1064" y="1007.9" font-size="26.5" text-anchor="end" stroke="#231815" stroke-width="0.36">4</text>
<line x1="1069.8" y1="1059.1" x2="1079.8" y2="1059.1" stroke="#231815" stroke-width="1.9"/>
<text x="1064" y="1068.8" font-size="26.5" text-anchor="end" stroke="#231815" stroke-width="0.36">2</text>
<line x1="1069.8" y1="1120.2" x2="1079.8" y2="1120.2" stroke="#231815" stroke-width="1.9"/>
<text x="1064" y="1128.6" font-size="26.5" text-anchor="end" stroke="#231815" stroke-width="0.36">0</text>
<text x="1023.3" y="990.8" font-size="31" text-anchor="middle" transform="rotate(-90 1023.3 990.8)" stroke="#231815" stroke-width="0.36">Relative promoter activity</text>
<rect x="1672.6" y="836.8" width="15" height="15" fill="#b5b6b6"/>
<text x="1697.3" y="852.6" font-size="22.35" stroke="#231815" stroke-width="0.36">LA-shScr</text>
<rect x="1672.6" y="873" width="15" height="15" fill="#be2420"/>
<text x="1697.3" y="889.3" font-size="22.35" stroke="#231815" stroke-width="0.36">LA-shAPC</text>
<rect x="1672.6" y="910.3" width="15" height="15" fill="#1c6ca9"/>
<text x="1697.3" y="923.9" font-size="22.35" stroke="#231815" stroke-width="0.36">LA-shAPC/HOXB3</text>
</g>
<g>
<text x="5.8" y="1239.5" font-size="36.7" font-weight="bold" fill="#000" stroke="#000" stroke-width="0.29">F</text>
<filter id="bl1" x="-50%" y="-300%" width="200%" height="700%"><feGaussianBlur stdDeviation="0.9"/></filter>
<filter id="bl2" x="-50%" y="-300%" width="200%" height="700%"><feGaussianBlur stdDeviation="1.5"/></filter>
<filter id="bl3" x="-50%" y="-300%" width="200%" height="700%"><feGaussianBlur stdDeviation="2.4"/></filter>
<filter id="bl4" x="-50%" y="-300%" width="200%" height="700%"><feGaussianBlur stdDeviation="4"/></filter>
<filter id="nz" x="0" y="0" width="100%" height="100%"><feTurbulence type="fractalNoise" baseFrequency="0.55" numOctaves="2" seed="7" result="n"/><feColorMatrix in="n" type="matrix" values="0 0 0 0 0  0 0 0 0 0  0 0 0 0 0  2.4 0 0 0 -0.95"/></filter>
<linearGradient id="fg1" x1="0" y1="0" x2="1" y2="0"><stop offset="0" stop-color="#c6c6c6"/><stop offset="0.45" stop-color="#c3c3c3"/><stop offset="0.6" stop-color="#bcbcbc"/><stop offset="1" stop-color="#bebebe"/></linearGradient>
<linearGradient id="fg2" x1="0" y1="0" x2="0" y2="1"><stop offset="0" stop-color="#878787"/><stop offset="0.5" stop-color="#7c7c7c"/><stop offset="1" stop-color="#828282"/></linearGradient>
<linearGradient id="fg6" x1="0" y1="0" x2="0" y2="1"><stop offset="0" stop-color="#8a8a8a"/><stop offset="0.5" stop-color="#7e7e7e"/><stop offset="1" stop-color="#858585"/></linearGradient>
<clipPath id="sc0"><rect x="171.3" y="1487" width="253.6" height="43.8"/></clipPath>
<rect x="171.3" y="1487" width="253.6" height="43.8" fill="url(#fg1)"/>
<clipPath id="sc1"><rect x="171.3" y="1540.5" width="253.6" height="44.1"/></clipPath>
<rect x="171.3" y="1540.5" width="253.6" height="44.1" fill="url(#fg2)"/>
<clipPath id="sc2"><rect x="171.3" y="1595.3" width="253.6" height="44.4"/></clipPath>
<rect x="171.3" y="1595.3" width="253.6" height="44.4" fill="#b4b4b4"/>
<clipPath id="sc3"><rect x="171.3" y="1649" width="253.6" height="44"/></clipPath>
<rect x="171.3" y="1649" width="253.6" height="44" fill="#c1c1c1"/>
<clipPath id="sc4"><rect x="171.3" y="1701.9" width="253.6" height="43.9"/></clipPath>
<rect x="171.3" y="1701.9" width="253.6" height="43.9" fill="#c0c0c0"/>
<clipPath id="sc5"><rect x="171.3" y="1754.9" width="253.6" height="43.8"/></clipPath>
<rect x="171.3" y="1754.9" width="253.6" height="43.8" fill="url(#fg6)"/>
<g clip-path="url(#sc0)"><rect x="313.5" y="1484" width="42" height="10" rx="5" fill="#000" opacity="0.3" filter="url(#bl3)"/><rect x="314.5" y="1494" width="40" height="8" rx="4" fill="#000" opacity="0.95" filter="url(#bl2)"/><rect x="320" y="1495.7" width="34" height="5" rx="2.5" fill="#000" opacity="0.6" filter="url(#bl1)"/><rect x="314" y="1513.4" width="21" height="3.6" rx="1.8" fill="#000" opacity="0.95" filter="url(#bl2)" transform="rotate(-3 324.5 1515.2)"/><rect x="337" y="1512.5" width="18" height="3" rx="1.5" fill="#000" opacity="0.75" filter="url(#bl2)" transform="rotate(5 346 1514)"/><rect x="314.5" y="1517" width="40" height="10" rx="5" fill="#000" opacity="0.1" filter="url(#bl3)"/><rect x="255.5" y="1496.2" width="8" height="4" rx="2" fill="#000" opacity="0.2" filter="url(#bl2)"/><rect x="282.5" y="1495.75" width="10" height="4.5" rx="2.25" fill="#000" opacity="0.3" filter="url(#bl2)"/><rect x="255.5" y="1512.1" width="8" height="3" rx="1.5" fill="#000" opacity="0.13" filter="url(#bl2)"/><rect x="282.5" y="1512.1" width="10" height="3" rx="1.5" fill="#000" opacity="0.17" filter="url(#bl2)"/><rect x="373" y="1494.5" width="10" height="5" rx="2.5" fill="#000" opacity="0.5" filter="url(#bl2)"/><rect x="402.8" y="1493.5" width="11" height="5" rx="2.5" fill="#000" opacity="0.58" filter="url(#bl2)" transform="rotate(-20 408.3 1496)"/><rect x="373" y="1511.8" width="10" height="3" rx="1.5" fill="#000" opacity="0.25" filter="url(#bl2)"/><rect x="403.3" y="1511.5" width="10" height="3" rx="1.5" fill="#000" opacity="0.25" filter="url(#bl2)"/></g>
<g clip-path="url(#sc1)"><rect x="178.5" y="1552" width="49" height="26" rx="13" fill="#000" opacity="0.3" filter="url(#bl4)"/><rect x="182.5" y="1555.1" width="41" height="9.2" rx="4.6" fill="#000" opacity="1" filter="url(#bl2)"/><rect x="182.5" y="1566.4" width="41" height="8.6" rx="4.3" fill="#000" opacity="1" filter="url(#bl2)"/><rect x="185.5" y="1556.85" width="35" height="5.7" rx="2.85" fill="#000" opacity="1" filter="url(#bl1)"/><rect x="185.5" y="1568.15" width="35" height="5.1" rx="2.55" fill="#000" opacity="1" filter="url(#bl1)"/><rect x="238.3" y="1552" width="49" height="26" rx="13" fill="#000" opacity="0.3" filter="url(#bl4)"/><rect x="242.3" y="1554.7" width="41" height="10" rx="5" fill="#000" opacity="1" filter="url(#bl2)"/><rect x="242.3" y="1566" width="41" height="9.4" rx="4.7" fill="#000" opacity="1" filter="url(#bl2)"/><rect x="245.3" y="1556.45" width="35" height="6.5" rx="3.25" fill="#000" opacity="1" filter="url(#bl1)"/><rect x="245.3" y="1567.75" width="35" height="5.9" rx="2.95" fill="#000" opacity="1" filter="url(#bl1)"/><rect x="298.7" y="1552" width="47" height="26" rx="13" fill="#000" opacity="0.3" filter="url(#bl4)"/><rect x="302.7" y="1556.5" width="39" height="6.4" rx="3.2" fill="#000" opacity="0.92" filter="url(#bl2)"/><rect x="302.7" y="1568.1" width="39" height="5.2" rx="2.6" fill="#000" opacity="0.83" filter="url(#bl2)"/><rect x="305.7" y="1558.25" width="33" height="2.9" rx="1.45" fill="#000" opacity="0.92" filter="url(#bl1)"/><rect x="305.7" y="1569.85" width="33" height="1.7" rx="0.85" fill="#000" opacity="0.74" filter="url(#bl1)"/><rect x="358.2" y="1552" width="50" height="26" rx="13" fill="#000" opacity="0.3" filter="url(#bl4)"/><rect x="362.2" y="1556.6" width="42" height="6.2" rx="3.1" fill="#000" opacity="0.78" filter="url(#bl2)"/><rect x="362.2" y="1567.6" width="42" height="6.2" rx="3.1" fill="#000" opacity="0.7" filter="url(#bl2)"/><rect x="365.2" y="1558.35" width="36" height="2.7" rx="1.35" fill="#000" opacity="0.78" filter="url(#bl1)"/><rect x="365.2" y="1569.35" width="36" height="2.7" rx="1.35" fill="#000" opacity="0.62" filter="url(#bl1)"/></g>
<g clip-path="url(#sc2)"><rect x="171.3" y="1595.3" width="253.6" height="44.4" fill="#000" filter="url(#nz)" opacity="0.26"/><rect x="179" y="1624.25" width="47" height="7.5" rx="3.75" fill="#000" opacity="0.42" filter="url(#bl3)"/><rect x="240.5" y="1624.25" width="48" height="7.5" rx="3.75" fill="#000" opacity="0.46" filter="url(#bl3)"/><rect x="303" y="1624.25" width="50" height="7.5" rx="3.75" fill="#000" opacity="0.55" filter="url(#bl3)"/><rect x="365.5" y="1624.25" width="50" height="7.5" rx="3.75" fill="#000" opacity="0.36" filter="url(#bl3)"/><rect x="180" y="1625.2" width="12" height="6" rx="3" fill="#000" opacity="0.4" filter="url(#bl2)"/><rect x="242" y="1624.5" width="10" height="6" rx="3" fill="#000" opacity="0.25" filter="url(#bl2)"/><rect x="307" y="1624.5" width="12" height="6" rx="3" fill="#000" opacity="0.25" filter="url(#bl2)"/><rect x="339" y="1625" width="14" height="7" rx="3.5" fill="#000" opacity="0.42" filter="url(#bl2)"/><rect x="367" y="1624.5" width="12" height="6" rx="3" fill="#000" opacity="0.22" filter="url(#bl2)"/></g>
<g clip-path="url(#sc3)"><rect x="178" y="1646" width="45" height="50" rx="4" fill="#000" opacity="0.22" filter="url(#bl3)"/><rect x="179" y="1668.5" width="43" height="8" rx="4" fill="#000" opacity="0.8" filter="url(#bl3)"/><rect x="181" y="1685.5" width="39" height="7" rx="3.5" fill="#000" opacity="0.35" filter="url(#bl3)"/><rect x="243.1" y="1646" width="43" height="50" rx="4" fill="#000" opacity="0.22" filter="url(#bl3)"/><rect x="244.1" y="1668.5" width="41" height="8" rx="4" fill="#000" opacity="0.82" filter="url(#bl3)"/><rect x="246.1" y="1685.5" width="37" height="7" rx="3.5" fill="#000" opacity="0.35" filter="url(#bl3)"/><rect x="307.5" y="1646" width="38" height="50" rx="4" fill="#000" opacity="0.05" filter="url(#bl3)"/><rect x="308.5" y="1668.5" width="36" height="8" rx="4" fill="#000" opacity="0.4" filter="url(#bl3)"/><rect x="310.5" y="1685.5" width="32" height="7" rx="3.5" fill="#000" opacity="0.08" filter="url(#bl3)"/><rect x="370.2" y="1646" width="45" height="50" rx="4" fill="#000" opacity="0.09" filter="url(#bl3)"/><rect x="371.2" y="1668.5" width="43" height="8" rx="4" fill="#000" opacity="0.42" filter="url(#bl3)"/><rect x="373.2" y="1685.5" width="39" height="7" rx="3.5" fill="#000" opacity="0.14" filter="url(#bl3)"/><rect x="260" y="1668.8" width="24" height="6" rx="3" fill="#000" opacity="0.45" filter="url(#bl2)"/></g>
<g clip-path="url(#sc4)"><rect x="312.8" y="1724" width="42" height="24" rx="12" fill="#000" opacity="0.16" filter="url(#bl4)"/><rect x="313.8" y="1722.1" width="40" height="11" rx="5.5" fill="#000" opacity="1" filter="url(#bl2)"/><rect x="316.8" y="1724.1" width="34" height="7" rx="3.5" fill="#000" opacity="1" filter="url(#bl1)"/><rect x="286" y="1724.25" width="5" height="2.5" rx="1.25" fill="#000" opacity="0.3" filter="url(#bl2)"/><rect x="377.8" y="1723.8" width="4" height="3.4" rx="1.7" fill="#000" opacity="0.6" filter="url(#bl1)"/><rect x="403.55" y="1722.1" width="6.5" height="4.4" rx="2.2" fill="#000" opacity="0.95" filter="url(#bl1)"/><rect x="407.5" y="1720.3" width="4" height="2.4" rx="1.2" fill="#000" opacity="0.6" filter="url(#bl1)" transform="rotate(-40 409.5 1721.5)"/><rect x="405" y="1729" width="4" height="16" rx="8" fill="#000" opacity="0.2" filter="url(#bl3)"/></g>
<g clip-path="url(#sc5)"><rect x="175.5" y="1768.3" width="56" height="18" rx="9" fill="#000" opacity="0.3" filter="url(#bl4)"/><rect x="178.5" y="1771.55" width="50" height="10.5" rx="5.25" fill="#000" opacity="0.78" filter="url(#bl3)"/><rect x="237" y="1768" width="55" height="18" rx="9" fill="#000" opacity="0.3" filter="url(#bl4)"/><rect x="240" y="1771.5" width="49" height="10" rx="5" fill="#000" opacity="0.8" filter="url(#bl3)"/><rect x="297" y="1766.1" width="56" height="18" rx="9" fill="#000" opacity="0.3" filter="url(#bl4)"/><rect x="300" y="1769.35" width="50" height="10.5" rx="5.25" fill="#000" opacity="0.92" filter="url(#bl3)"/><rect x="357" y="1766" width="44" height="18" rx="9" fill="#000" opacity="0.3" filter="url(#bl4)"/><rect x="360" y="1770" width="38" height="9" rx="4.5" fill="#000" opacity="0.5" filter="url(#bl3)"/><rect x="383" y="1769" width="34" height="9" rx="4.5" fill="#000" opacity="0.3" filter="url(#bl4)"/></g>
<text x="203.6" y="1476.3" font-size="26.85" fill="#000" transform="rotate(-90 203.6 1476.3)" stroke="#000" stroke-width="0.36">LA-shScr</text>
<text x="274.4" y="1476.3" font-size="26.85" fill="#000" transform="rotate(-90 274.4 1476.3)" stroke="#000" stroke-width="0.36">LA-shHOXB3</text>
<text x="338.4" y="1476.3" font-size="26.85" fill="#000" transform="rotate(-90 338.4 1476.3)" stroke="#000" stroke-width="0.36">LA-shAPC</text>
<text x="401.4" y="1476.3" font-size="26.85" transform="rotate(-90 401.4 1476.3)" stroke="#231815" stroke-width="0.36">LA-shAPC/HOXB3</text>
<text x="88.9" y="1506" font-size="31.4" text-anchor="middle" font-weight="bold" fill="#000" stroke="#000" stroke-width="0.29">p-ERK1/2</text>
<text x="88.9" y="1535.6" font-size="23" text-anchor="middle" fill="#000" stroke="#000" stroke-width="0.36">(Thr<tspan font-size="14.6" dy="-8.6">202</tspan><tspan dy="8.6">/Tyr</tspan><tspan font-size="14.6" dy="-8.6">204</tspan><tspan dy="8.6">)</tspan></text>
<text x="88.9" y="1572" font-size="31.4" text-anchor="middle" font-weight="bold" fill="#000" stroke="#000" stroke-width="0.29">ERK1/2</text>
<text x="88.9" y="1610.2" font-size="31.4" text-anchor="middle" font-weight="bold" fill="#000" stroke="#000" stroke-width="0.29">p-AKT</text>
<text x="88.9" y="1640" font-size="23" text-anchor="middle" fill="#000" stroke="#000" stroke-width="0.36">(Ser<tspan font-size="14.6" dy="-8.6">473</tspan><tspan dy="8.6">)</tspan></text>
<text x="88.9" y="1675.7" font-size="31.4" text-anchor="middle" font-weight="bold" fill="#000" stroke="#000" stroke-width="0.29">AKT</text>
<text x="88.9" y="1718.6" font-size="31.4" text-anchor="middle" font-weight="bold" fill="#000" stroke="#000" stroke-width="0.29">p-MEK1/2</text>
<text x="88.9" y="1747.4" font-size="23" text-anchor="middle" fill="#000" stroke="#000" stroke-width="0.36">(Ser<tspan font-size="14.6" dy="-8.6">217</tspan><tspan dy="8.6">/Ser</tspan><tspan font-size="14.6" dy="-8.6">221</tspan><tspan dy="8.6">)</tspan></text>
<text x="88.9" y="1788" font-size="31.4" text-anchor="middle" font-weight="bold" fill="#000" stroke="#000" stroke-width="0.29">MEK1/2</text>
</g>
<g>
<text x="517.6" y="1239.5" font-size="36.7" font-weight="bold" fill="#000" stroke="#000" stroke-width="0.29">G</text>
<rect x="566.3" y="1303.7" width="19.2" height="13.2" fill="#e2e2e2"/>
<text x="592.5" y="1316.9" font-size="26.6" font-weight="bold" stroke="#231815" stroke-width="0.29">LA-shScr</text>
<rect x="825.6" y="1304.5" width="19.2" height="13.2" fill="#1d8a9b"/>
<text x="852.8" y="1317.7" font-size="26.6" font-weight="bold" stroke="#231815" stroke-width="0.29">LA-shHOXB3</text>
<rect x="566.3" y="1347.3" width="19.2" height="13.2" fill="#c8201f"/>
<text x="591.4" y="1360.5" font-size="26.6" font-weight="bold" stroke="#231815" stroke-width="0.29">LA-shAPC</text>
<rect x="825.6" y="1347.3" width="19.2" height="13.2" fill="#2a86c5"/>
<text x="851" y="1360.5" font-size="26.6" font-weight="bold" stroke="#231815" stroke-width="0.29">LA-shAPC/HOXB3</text>
<rect x="662.87" y="1676.55" width="24.39" height="42.85" fill="#e2e2e2"/>
<rect x="691.44" y="1669.58" width="23.7" height="49.82" fill="#1d8a9b"/>
<rect x="719.67" y="1505.11" width="24.04" height="214.29" fill="#c8201f"/>
<rect x="748.24" y="1626.72" width="23.7" height="92.68" fill="#2a86c5"/>
<rect x="809.22" y="1608.6" width="23.7" height="110.8" fill="#e2e2e2"/>
<rect x="837.79" y="1584.21" width="23.35" height="135.19" fill="#1d8a9b"/>
<rect x="865.32" y="1505.11" width="24.04" height="214.29" fill="#c8201f"/>
<rect x="893.89" y="1569.57" width="23.7" height="149.83" fill="#2a86c5"/>
<rect x="952.78" y="1690.84" width="23.7" height="28.56" fill="#e2e2e2"/>
<rect x="981.01" y="1683.52" width="23.7" height="35.88" fill="#1d8a9b"/>
<rect x="1009.23" y="1505.11" width="23.7" height="214.29" fill="#c8201f"/>
<rect x="1037.46" y="1676.55" width="23.7" height="42.85" fill="#2a86c5"/>
<path d="M675.06 1654.95 V1698.5 M669.06 1654.95 H681.06 M669.06 1698.5 H681.06" fill="none" stroke="#231815" stroke-width="1.7"/>
<path d="M703.29 1657.39 V1682.13 M697.29 1657.39 H709.29 M697.29 1682.13 H709.29" fill="none" stroke="#231815" stroke-width="1.7"/>
<path d="M731.69 1469.22 V1542.05 M725.69 1469.22 H737.69 M725.69 1542.05 H737.69" fill="none" stroke="#231815" stroke-width="1.7"/>
<path d="M760.09 1601.98 V1651.46 M754.09 1601.98 H766.09 M754.09 1651.46 H766.09" fill="none" stroke="#231815" stroke-width="1.7"/>
<path d="M821.07 1588.74 V1627.77 M815.07 1588.74 H827.07 M815.07 1627.77 H827.07" fill="none" stroke="#231815" stroke-width="1.7"/>
<path d="M849.47 1562.26 V1606.16 M843.47 1562.26 H855.47 M843.47 1606.16 H855.47" fill="none" stroke="#231815" stroke-width="1.7"/>
<path d="M877.34 1480.02 V1530.2 M871.34 1480.02 H883.34 M871.34 1530.2 H883.34" fill="none" stroke="#231815" stroke-width="1.7"/>
<path d="M905.74 1554.94 V1585.25 M899.74 1554.94 H911.74 M899.74 1585.25 H911.74" fill="none" stroke="#231815" stroke-width="1.7"/>
<path d="M964.63 1678.99 V1703.38 M958.63 1678.99 H970.63 M958.63 1703.38 H970.63" fill="none" stroke="#231815" stroke-width="1.7"/>
<path d="M992.86 1671.67 V1696.06 M986.86 1671.67 H998.86 M986.86 1696.06 H998.86" fill="none" stroke="#231815" stroke-width="1.7"/>
<path d="M1021.08 1475.84 V1535.43 M1015.08 1475.84 H1027.08 M1015.08 1535.43 H1027.08" fill="none" stroke="#231815" stroke-width="1.7"/>
<path d="M1049.31 1655.29 V1698.5 M1043.31 1655.29 H1055.31 M1043.31 1698.5 H1055.31" fill="none" stroke="#231815" stroke-width="1.7"/>
<path d="M663.56 1605.12 H709.21 M686.56 1605.12 V1427.4 H732.56 V1436.12 M737.79 1436.12 V1427.4 H760.09 V1557.03" fill="none" stroke="#231815" stroke-width="2.1"/>
<text x="709.91" y="1428.9" font-size="24" text-anchor="middle" fill="#000" stroke="#000" stroke-width="0.5">**</text>
<text x="748.24" y="1428.9" font-size="24" text-anchor="middle" fill="#000" stroke="#000" stroke-width="0.5">**</text>
<path d="M815.14 1532.64 H857.31 M837.1 1532.64 V1437.16 H871.24 V1446.57 M884.14 1446.57 V1437.16 H905.74 V1518.7" fill="none" stroke="#231815" stroke-width="2.1"/>
<text x="853.82" y="1438.66" font-size="24" text-anchor="middle" fill="#000" stroke="#000" stroke-width="0.5">*</text>
<text x="894.59" y="1438.66" font-size="24" text-anchor="middle" fill="#000" stroke="#000" stroke-width="0.5">*</text>
<path d="M953.13 1621.84 H999.13 M976.48 1621.84 V1442.04 H1015.85 V1447.61 M1021.08 1447.61 V1442.04 H1049.31 V1612.09" fill="none" stroke="#231815" stroke-width="2.1"/>
<text x="996.69" y="1440.75" font-size="24" text-anchor="middle" fill="#000" stroke="#000" stroke-width="0.5">***</text>
<text x="1033.28" y="1440.75" font-size="24" text-anchor="middle" fill="#000" stroke="#000" stroke-width="0.5">**</text>
<line x1="645.4" y1="1396.59" x2="645.4" y2="1720.8" stroke="#231815" stroke-width="2.8"/>
<line x1="636.3" y1="1719.4" x2="1070.6" y2="1719.4" stroke="#231815" stroke-width="2.8"/>
<line x1="636.3" y1="1397.8" x2="645.4" y2="1397.8" stroke="#231815" stroke-width="2.4"/>
<text x="627" y="1406.5" font-size="26.6" text-anchor="end" font-weight="bold" fill="#000" stroke="#000" stroke-width="0.29">1.5</text>
<line x1="636.3" y1="1505" x2="645.4" y2="1505" stroke="#231815" stroke-width="2.4"/>
<text x="627" y="1512.2" font-size="26.6" text-anchor="end" font-weight="bold" fill="#000" stroke="#000" stroke-width="0.29">1.0</text>
<line x1="636.3" y1="1612.2" x2="645.4" y2="1612.2" stroke="#231815" stroke-width="2.4"/>
<text x="627" y="1618.5" font-size="26.6" text-anchor="end" font-weight="bold" fill="#000" stroke="#000" stroke-width="0.29">0.5</text>
<line x1="636.3" y1="1719.4" x2="645.4" y2="1719.4" stroke="#231815" stroke-width="2.4"/>
<text x="627" y="1722.9" font-size="26.6" text-anchor="end" font-weight="bold" fill="#000" stroke="#000" stroke-width="0.29">0.0</text>
<line x1="715.83" y1="1719.4" x2="715.83" y2="1729.9" stroke="#231815" stroke-width="2.6"/>
<line x1="864.27" y1="1719.4" x2="864.27" y2="1729.9" stroke="#231815" stroke-width="2.6"/>
<line x1="1007.14" y1="1719.4" x2="1007.14" y2="1729.9" stroke="#231815" stroke-width="2.6"/>
<text x="560" y="1555.5" font-size="31.2" text-anchor="middle" font-weight="bold" transform="rotate(-90 560 1555.5)" stroke="#231815" stroke-width="0.29">Relative Phosphorylation</text>
<text x="711.95" y="1769.9" font-size="31.4" text-anchor="middle" font-weight="bold" stroke="#231815" stroke-width="0.29">p-ERK1/2</text>
<text x="855.76" y="1769.9" font-size="31.4" text-anchor="middle" font-weight="bold" stroke="#231815" stroke-width="0.29">p-AKT</text>
<text x="1009.18" y="1769.9" font-size="31.4" text-anchor="middle" font-weight="bold" stroke="#231815" stroke-width="0.29">p-MEK1/2</text>
<text x="711.15" y="1803" font-size="27" text-anchor="middle" stroke="#231815" stroke-width="0.36">(Thr<tspan font-size="12.4" dy="-9.5">202</tspan><tspan dy="9.5">/Tyr</tspan><tspan font-size="12.4" dy="-9.5">204</tspan><tspan dy="9.5" dx="1">)</tspan></text>
<text x="856.26" y="1803" font-size="27" text-anchor="middle" stroke="#231815" stroke-width="0.36">(Ser<tspan font-size="12.4" dy="-9.5">202</tspan><tspan dy="9.5" dx="1">)</tspan></text>
<text x="1009.68" y="1803" font-size="27" text-anchor="middle" stroke="#231815" stroke-width="0.36">(Ser<tspan font-size="12.4" dy="-9.5">217</tspan><tspan dy="9.5">/Ser</tspan><tspan font-size="12.4" dy="-9.5">221</tspan><tspan dy="9.5" dx="1">)</tspan></text>
</g>
<g>
<text x="1193" y="1239.5" font-size="36.7" font-weight="bold" fill="#000" stroke="#000" stroke-width="0.29">H</text>
<path d="M1468.9 1475.87 V1455.07 M1462 1455.07 H1475.8" fill="none" stroke="#dcdcdc" stroke-width="2.8"/>
<path d="M1549.42 1478.56 V1442.77 M1542.52 1442.77 H1556.32" fill="none" stroke="#dcdcdc" stroke-width="2.8"/>
<path d="M1629.95 1489.74 V1469.61 M1623.05 1469.61 H1636.85" fill="none" stroke="#dcdcdc" stroke-width="2.8"/>
<path d="M1710.48 1502.05 V1490.41 M1703.58 1490.41 H1717.38" fill="none" stroke="#dcdcdc" stroke-width="2.8"/>
<path d="M1629.95 1489.74 V1505.4 M1623.05 1505.4 H1636.85" fill="none" stroke="#dcdcdc" stroke-width="2.8"/>
<path d="M1468.9 1475.87 L1549.42 1478.56 L1629.95 1489.74 L1710.48 1502.05" fill="none" stroke="#dcdcdc" stroke-width="3"/>
<circle cx="1468.9" cy="1475.87" r="4.6" fill="none" stroke="#dcdcdc" stroke-width="2.8"/>
<circle cx="1549.42" cy="1478.56" r="4.6" fill="none" stroke="#dcdcdc" stroke-width="2.8"/>
<circle cx="1629.95" cy="1489.74" r="4.6" fill="none" stroke="#dcdcdc" stroke-width="2.8"/>
<circle cx="1710.48" cy="1502.05" r="4.6" fill="none" stroke="#dcdcdc" stroke-width="2.8"/>
<path d="M1468.9 1475.87 V1489.3 M1462 1489.3 H1475.8" fill="none" stroke="#2d69ba" stroke-width="2.8"/>
<path d="M1468.9 1475.87 V1462.9 M1462 1462.9 H1475.8" fill="none" stroke="#2d69ba" stroke-width="2.8"/>
<path d="M1549.42 1483.03 V1498.69 M1542.52 1498.69 H1556.32" fill="none" stroke="#2d69ba" stroke-width="2.8"/>
<path d="M1629.95 1494.66 V1507.64 M1623.05 1507.64 H1636.85" fill="none" stroke="#2d69ba" stroke-width="2.8"/>
<path d="M1468.9 1475.87 L1549.42 1483.03 L1629.95 1494.66 L1710.48 1511.66" fill="none" stroke="#2d69ba" stroke-width="3"/>
<rect x="1464.5" y="1471.47" width="8.8" height="8.8" fill="none" stroke="#2d69ba" stroke-width="2.8"/>
<rect x="1545.02" y="1478.63" width="8.8" height="8.8" fill="none" stroke="#2d69ba" stroke-width="2.8"/>
<rect x="1625.55" y="1490.26" width="8.8" height="8.8" fill="none" stroke="#2d69ba" stroke-width="2.8"/>
<rect x="1706.08" y="1507.26" width="8.8" height="8.8" fill="none" stroke="#2d69ba" stroke-width="2.8"/>
<path d="M1468.9 1475.87 V1468.49 M1462 1468.49 H1475.8" fill="none" stroke="#1c6f9c" stroke-width="2.8"/>
<path d="M1549.42 1480.8 V1472.3 M1542.52 1472.3 H1556.32" fill="none" stroke="#1c6f9c" stroke-width="2.8"/>
<path d="M1629.95 1489.74 V1482.58 M1623.05 1482.58 H1636.85" fill="none" stroke="#1c6f9c" stroke-width="2.8"/>
<path d="M1468.9 1475.87 L1549.42 1480.8 L1629.95 1489.74 L1710.48 1502.05" fill="none" stroke="#1c6f9c" stroke-width="3"/>
<path d="M1468.9 1482.27 L1475.5 1470.87 L1462.3 1470.87 Z" fill="#1c6f9c" stroke="#1c6f9c" stroke-width="1"/>
<path d="M1549.42 1487.2 L1556.02 1475.8 L1542.82 1475.8 Z" fill="#1c6f9c" stroke="#1c6f9c" stroke-width="1"/>
<path d="M1629.95 1496.14 L1636.55 1484.74 L1623.35 1484.74 Z" fill="#1c6f9c" stroke="#1c6f9c" stroke-width="1"/>
<path d="M1710.48 1508.45 L1717.08 1497.05 L1703.88 1497.05 Z" fill="#1c6f9c" stroke="#1c6f9c" stroke-width="1"/>
<path d="M1468.9 1475.87 V1483.03 M1462 1483.03 H1475.8" fill="none" stroke="#e8443a" stroke-width="2.8"/>
<path d="M1549.42 1479.68 V1486.39 M1542.52 1486.39 H1556.32" fill="none" stroke="#e8443a" stroke-width="2.8"/>
<path d="M1629.95 1474.53 V1465.14 M1623.05 1465.14 H1636.85" fill="none" stroke="#e8443a" stroke-width="2.8"/>
<path d="M1710.48 1472.3 V1459.54 M1703.58 1459.54 H1717.38" fill="none" stroke="#e8443a" stroke-width="2.8"/>
<path d="M1468.9 1475.87 L1549.42 1479.68 L1629.95 1474.53 L1710.48 1472.3" fill="none" stroke="#e8443a" stroke-width="3"/>
<path d="M1468.9 1469.27 L1474.9 1480.27 L1462.9 1480.27 Z" fill="none" stroke="#e8443a" stroke-width="2.8" stroke-linejoin="miter"/>
<path d="M1549.42 1473.08 L1555.42 1484.08 L1543.42 1484.08 Z" fill="none" stroke="#e8443a" stroke-width="2.8" stroke-linejoin="miter"/>
<path d="M1629.95 1467.93 L1635.95 1478.93 L1623.95 1478.93 Z" fill="none" stroke="#e8443a" stroke-width="2.8" stroke-linejoin="miter"/>
<path d="M1710.48 1465.7 L1716.48 1476.7 L1704.48 1476.7 Z" fill="none" stroke="#e8443a" stroke-width="2.8" stroke-linejoin="miter"/>
<path d="M1468.9 1475.87 V1467.82 M1462 1467.82 H1475.8" fill="none" stroke="#f39819" stroke-width="2.8"/>
<path d="M1549.42 1469.61 V1464.02 M1542.52 1464.02 H1556.32" fill="none" stroke="#f39819" stroke-width="2.8"/>
<path d="M1629.95 1432.7 V1413.69 M1623.05 1413.69 H1636.85" fill="none" stroke="#f39819" stroke-width="2.8"/>
<path d="M1710.48 1395.79 V1363.36 M1703.58 1363.36 H1717.38" fill="none" stroke="#f39819" stroke-width="2.8"/>
<path d="M1468.9 1475.87 L1549.42 1469.61 L1629.95 1432.7 L1710.48 1395.79" fill="none" stroke="#f39819" stroke-width="3"/>
<circle cx="1468.9" cy="1475.87" r="6.4" fill="#f39819"/>
<circle cx="1549.42" cy="1469.61" r="6.4" fill="#f39819"/>
<circle cx="1629.95" cy="1432.7" r="6.4" fill="#f39819"/>
<circle cx="1710.48" cy="1395.79" r="6.4" fill="#f39819"/>
<path d="M1549.42 1464.02 V1456.19 M1542.52 1456.19 H1556.32" fill="none" stroke="#d9787a" stroke-width="2.8"/>
<path d="M1629.95 1421.52 V1399.15 M1623.05 1399.15 H1636.85" fill="none" stroke="#d9787a" stroke-width="2.8"/>
<path d="M1710.48 1385.73 V1349.27 M1703.58 1349.27 H1717.38" fill="none" stroke="#d9787a" stroke-width="2.8"/>
<path d="M1468.9 1475.87 L1549.42 1464.02 L1629.95 1421.52 L1710.48 1385.73" fill="none" stroke="#d9787a" stroke-width="3"/>
<path d="M1468.9 1469.27 L1474.5 1475.87 L1468.9 1482.47 L1463.3 1475.87 Z" fill="#d9787a"/>
<path d="M1549.42 1457.42 L1555.02 1464.02 L1549.42 1470.62 L1543.82 1464.02 Z" fill="#d9787a"/>
<path d="M1629.95 1414.92 L1635.55 1421.52 L1629.95 1428.12 L1624.35 1421.52 Z" fill="#d9787a"/>
<path d="M1710.48 1379.13 L1716.08 1385.73 L1710.48 1392.33 L1704.88 1385.73 Z" fill="#d9787a"/>
<path d="M1549.42 1458.43 V1449.48 M1542.52 1449.48 H1556.32" fill="none" stroke="#f5b3c3" stroke-width="2.8"/>
<path d="M1629.95 1418.16 V1411.45 M1623.05 1411.45 H1636.85" fill="none" stroke="#f5b3c3" stroke-width="2.8"/>
<path d="M1710.48 1314.82 V1277.69 M1703.58 1277.69 H1717.38" fill="none" stroke="#f5b3c3" stroke-width="2.8"/>
<path d="M1468.9 1475.87 L1549.42 1458.43 L1629.95 1418.16 L1710.48 1314.82" fill="none" stroke="#f5b3c3" stroke-width="3"/>
<rect x="1464.5" y="1471.47" width="8.8" height="8.8" fill="none" stroke="#f5b3c3" stroke-width="2.8"/>
<rect x="1545.02" y="1454.03" width="8.8" height="8.8" fill="none" stroke="#f5b3c3" stroke-width="2.8"/>
<rect x="1625.55" y="1413.76" width="8.8" height="8.8" fill="none" stroke="#f5b3c3" stroke-width="2.8"/>
<rect x="1706.08" y="1310.42" width="8.8" height="8.8" fill="none" stroke="#f5b3c3" stroke-width="2.8"/>
<path d="M1468.9 1475.87 V1469.61 M1462 1469.61 H1475.8" fill="none" stroke="#6fa8d6" stroke-width="2.8"/>
<path d="M1549.42 1455.07 V1446.12 M1542.52 1446.12 H1556.32" fill="none" stroke="#6fa8d6" stroke-width="2.8"/>
<path d="M1629.95 1388.64 V1379.69 M1623.05 1379.69 H1636.85" fill="none" stroke="#6fa8d6" stroke-width="2.8"/>
<path d="M1710.48 1288.42 V1251.51 M1703.58 1251.51 H1717.38" fill="none" stroke="#6fa8d6" stroke-width="2.8"/>
<path d="M1468.9 1475.87 L1549.42 1455.07 L1629.95 1388.64 L1710.48 1288.42" fill="none" stroke="#6fa8d6" stroke-width="3"/>
<path d="M1468.9 1469.27 L1474.9 1480.27 L1462.9 1480.27 Z" fill="none" stroke="#6fa8d6" stroke-width="2.8" stroke-linejoin="miter"/>
<path d="M1549.42 1448.47 L1555.42 1459.47 L1543.42 1459.47 Z" fill="none" stroke="#6fa8d6" stroke-width="2.8" stroke-linejoin="miter"/>
<path d="M1629.95 1382.04 L1635.95 1393.04 L1623.95 1393.04 Z" fill="none" stroke="#6fa8d6" stroke-width="2.8" stroke-linejoin="miter"/>
<path d="M1710.48 1281.82 L1716.48 1292.82 L1704.48 1292.82 Z" fill="none" stroke="#6fa8d6" stroke-width="2.8" stroke-linejoin="miter"/>
<line x1="1428.7" y1="1205.2" x2="1428.7" y2="1531.7" stroke="#000" stroke-width="3.5"/>
<line x1="1418.8" y1="1530" x2="1750" y2="1530" stroke="#000" stroke-width="3.5"/>
<line x1="1418.8" y1="1206.78" x2="1428.7" y2="1206.78" stroke="#000" stroke-width="3"/>
<text x="1413.5" y="1216.98" font-size="25" text-anchor="end" fill="#000" stroke="#000" stroke-width="0.36">6</text>
<line x1="1418.8" y1="1314.52" x2="1428.7" y2="1314.52" stroke="#000" stroke-width="3"/>
<text x="1413.5" y="1324.72" font-size="25" text-anchor="end" fill="#000" stroke="#000" stroke-width="0.36">4</text>
<line x1="1418.8" y1="1422.26" x2="1428.7" y2="1422.26" stroke="#000" stroke-width="3"/>
<text x="1413.5" y="1432.46" font-size="25" text-anchor="end" fill="#000" stroke="#000" stroke-width="0.36">2</text>
<line x1="1418.8" y1="1530" x2="1428.7" y2="1530" stroke="#000" stroke-width="3"/>
<text x="1413.5" y="1539" font-size="25" text-anchor="end" fill="#000" stroke="#000" stroke-width="0.36">0</text>
<line x1="1468.9" y1="1530" x2="1468.9" y2="1539.8" stroke="#000" stroke-width="3"/>
<text x="1468.9" y="1568.3" font-size="25" text-anchor="middle" fill="#000" stroke="#000" stroke-width="0.36">0</text>
<line x1="1549.42" y1="1530" x2="1549.42" y2="1539.8" stroke="#000" stroke-width="3"/>
<text x="1549.42" y="1568.3" font-size="25" text-anchor="middle" fill="#000" stroke="#000" stroke-width="0.36">48</text>
<line x1="1629.95" y1="1530" x2="1629.95" y2="1539.8" stroke="#000" stroke-width="3"/>
<text x="1629.95" y="1568.3" font-size="25" text-anchor="middle" fill="#000" stroke="#000" stroke-width="0.36">96</text>
<line x1="1710.48" y1="1530" x2="1710.48" y2="1539.8" stroke="#000" stroke-width="3"/>
<text x="1710.48" y="1568.3" font-size="25" text-anchor="middle" fill="#000" stroke="#000" stroke-width="0.36">144</text>
<text x="1590" y="1608" font-size="30" text-anchor="middle" fill="#000" stroke="#000" stroke-width="0.36">Time (h)</text>
<text x="1382" y="1353" font-size="30.2" text-anchor="middle" fill="#000" transform="rotate(-90 1382 1353)" stroke="#000" stroke-width="0.36">Proportion viable (A.U.)</text>
<line x1="1723.9" y1="1285.74" x2="1723.9" y2="1310.79" stroke="#231815" stroke-width="2.1"/>
<text x="1744.2" y="1298.3" font-size="26.3" text-anchor="middle" font-weight="bold" fill="#000" transform="rotate(-90 1744.2 1298.3)" stroke="#000" stroke-width="0.29">n.s.</text>
<line x1="1725.47" y1="1493.1" x2="1725.47" y2="1519.27" stroke="#231815" stroke-width="2.1"/>
<text x="1746.7" y="1507.6" font-size="26.3" text-anchor="middle" font-weight="bold" fill="#000" transform="rotate(-90 1746.7 1507.6)" stroke="#000" stroke-width="0.29">n.s.</text>
<line x1="1722.11" y1="1378.35" x2="1722.11" y2="1470.73" stroke="#231815" stroke-width="2.1"/>
<text x="1745.3" y="1430.5" font-size="26" text-anchor="middle" fill="#000" transform="rotate(-90 1745.3 1430.5)" stroke="#000" stroke-width="0.5">*</text>
<line x1="1756.34" y1="1301.17" x2="1756.34" y2="1466.26" stroke="#231815" stroke-width="2.1"/>
<text x="1776.2" y="1386.8" font-size="26" text-anchor="middle" fill="#000" transform="rotate(-90 1776.2 1386.8)" stroke="#000" stroke-width="0.5">**</text>
<line x1="1773.11" y1="1290.66" x2="1773.11" y2="1382.37" stroke="#231815" stroke-width="2.1"/>
<text x="1795.6" y="1342.6" font-size="26" text-anchor="middle" fill="#000" transform="rotate(-90 1795.6 1342.6)" stroke="#000" stroke-width="0.5">*</text>
<line x1="1774.01" y1="1408.1" x2="1774.01" y2="1500.48" stroke="#231815" stroke-width="2.1"/>
<text x="1796.3" y="1449.5" font-size="26" text-anchor="middle" fill="#000" transform="rotate(-90 1796.3 1449.5)" stroke="#000" stroke-width="0.5">**</text>
<line x1="1796.38" y1="1290.66" x2="1796.38" y2="1499.81" stroke="#231815" stroke-width="2.1"/>
<text x="1823.6" y="1391.3" font-size="26" text-anchor="middle" fill="#000" transform="rotate(-90 1823.6 1391.3)" stroke="#000" stroke-width="0.5">***</text>
<line x1="1757.23" y1="1474.08" x2="1757.23" y2="1514.35" stroke="#231815" stroke-width="2.1"/>
<text x="1778.9" y="1494.2" font-size="26" text-anchor="middle" fill="#000" transform="rotate(-90 1778.9 1494.2)" stroke="#000" stroke-width="0.5">*</text>
<line x1="1224" y1="1662.1" x2="1261.6" y2="1662.1" stroke="#dcdcdc" stroke-width="2.8"/>
<circle cx="1242.8" cy="1662.1" r="3.68" fill="none" stroke="#dcdcdc" stroke-width="2.5"/>
<text x="1279.2" y="1671.1" font-size="26" fill="#111" stroke="#111" stroke-width="0.36">LA-shScr (Control)</text>
<line x1="1224" y1="1707.3" x2="1261.6" y2="1707.3" stroke="#6fa8d6" stroke-width="2.8"/>
<path d="M1242.8 1702.02 L1247.6 1710.82 L1238 1710.82 Z" fill="none" stroke="#6fa8d6" stroke-width="2.5" stroke-linejoin="miter"/>
<text x="1279.2" y="1716.3" font-size="26" fill="#111" stroke="#111" stroke-width="0.36">LA-shAPC (Control)</text>
<line x1="1224" y1="1753" x2="1261.6" y2="1753" stroke="#2d69ba" stroke-width="2.8"/>
<rect x="1239.28" y="1749.48" width="7.04" height="7.04" fill="none" stroke="#2d69ba" stroke-width="2.5"/>
<text x="1279.2" y="1762" font-size="26" fill="#111" stroke="#111" stroke-width="0.36">LA-shHOXB3 (Control)</text>
<line x1="1224" y1="1796.2" x2="1261.6" y2="1796.2" stroke="#1c6f9c" stroke-width="2.8"/>
<path d="M1242.8 1801.32 L1248.08 1792.2 L1237.52 1792.2 Z" fill="#1c6f9c" stroke="#1c6f9c" stroke-width="1"/>
<text x="1279.2" y="1805.2" font-size="26" fill="#111" stroke="#111" stroke-width="0.36">LA-shAPC/HOXB3 (Control)</text>
<line x1="1626.7" y1="1661" x2="1664.3" y2="1661" stroke="#d9787a" stroke-width="2.8"/>
<path d="M1645.5 1655.72 L1649.98 1661 L1645.5 1666.28 L1641.02 1661 Z" fill="#d9787a"/>
<text x="1682.1" y="1670" font-size="26" fill="#111" stroke="#111" stroke-width="0.36">LA-shAPC (MEKi)</text>
<line x1="1626.7" y1="1706.2" x2="1664.3" y2="1706.2" stroke="#f39819" stroke-width="2.8"/>
<circle cx="1645.5" cy="1706.2" r="5.12" fill="#f39819"/>
<text x="1682.1" y="1715.2" font-size="26" fill="#111" stroke="#111" stroke-width="0.36">LA-shAPC (ERKi)</text>
<line x1="1626.7" y1="1751" x2="1664.3" y2="1751" stroke="#f5b3c3" stroke-width="2.8"/>
<rect x="1641.98" y="1747.48" width="7.04" height="7.04" fill="none" stroke="#f5b3c3" stroke-width="2.5"/>
<text x="1682.1" y="1760" font-size="26" fill="#111" stroke="#111" stroke-width="0.36">LA-shAPC (AKTi)</text>
<line x1="1626.7" y1="1796" x2="1664.3" y2="1796" stroke="#e8443a" stroke-width="2.8"/>
<path d="M1645.5 1790.72 L1650.3 1799.52 L1640.7 1799.52 Z" fill="none" stroke="#e8443a" stroke-width="2.5" stroke-linejoin="miter"/>
<text x="1682.1" y="1805" font-size="26" fill="#111" stroke="#111" stroke-width="0.36">LA-shAPC (MEKi+ERKi)</text>
</g>
</svg>
</body>
</html>
